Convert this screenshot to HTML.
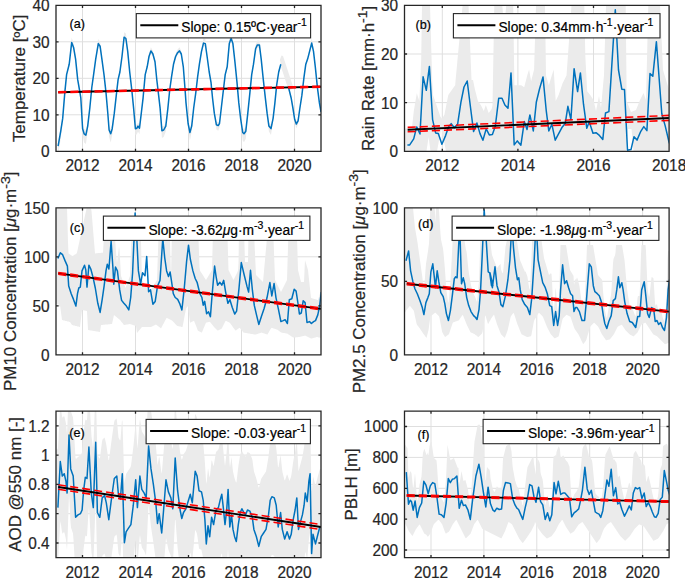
<!DOCTYPE html>
<html><head><meta charset="utf-8"><style>
html,body{margin:0;padding:0;background:#fff;}
svg{display:block;font-family:"Liberation Sans",sans-serif;font-size:15.4px;fill:#262626;}
text{stroke:#262626;stroke-width:0.2px;}
.k{fill:#000;stroke:#000;}
</style></head><body>
<svg width="685" height="578" viewBox="0 0 685 578">
<defs><clipPath id="ca"><rect x="56.0" y="5.3" width="265.0" height="146.0"/></clipPath><clipPath id="cb"><rect x="404.5" y="5.3" width="264.6" height="146.0"/></clipPath><clipPath id="cc"><rect x="56.0" y="207.8" width="265.0" height="147.0"/></clipPath><clipPath id="cd"><rect x="404.5" y="207.8" width="264.6" height="147.0"/></clipPath><clipPath id="ce"><rect x="56.0" y="411.1" width="265.0" height="146.6"/></clipPath><clipPath id="cf"><rect x="404.5" y="411.1" width="264.6" height="146.6"/></clipPath></defs>
<rect width="685" height="578" fill="#fff"/>
<path d="M82.5 5.3V151.3M135.5 5.3V151.3M188.5 5.3V151.3M241.5 5.3V151.3M294.5 5.3V151.3M56.0 114.8H321.0M56.0 78.3H321.0M56.0 41.8H321.0" stroke="#dfdfdf" stroke-width="1" fill="none"/>
<g clip-path="url(#ca)">
<polygon points="58.1,141.2 60.7,126.9 62.7,116.3 64.8,90.6 66.6,72.6 69.2,62.3 71.7,37.4 73.6,43.4 75.6,57.0 77.7,77.7 79.5,88.0 80.8,95.8 82.6,124.8 84.1,129.0 85.9,130.1 87.7,122.7 89.8,106.1 91.8,85.5 93.6,72.6 95.7,57.0 98.3,38.9 100.1,41.9 101.9,57.0 104.0,72.6 106.0,90.6 107.8,111.2 109.1,125.9 110.7,129.0 112.2,124.8 114.3,111.2 116.3,93.2 118.1,77.7 119.9,70.0 122.0,54.0 124.1,32.2 125.9,33.5 127.7,47.9 129.7,70.0 131.8,88.0 133.6,106.1 135.4,124.8 136.9,124.4 138.0,122.7 139.5,124.4 141.3,111.2 143.1,95.8 145.2,72.6 147.2,64.8 149.0,54.0 150.9,47.3 152.9,50.9 155.0,59.7 156.8,77.7 158.6,93.2 160.1,106.1 161.9,126.5 163.7,125.9 165.8,122.7 167.9,106.1 169.7,88.0 171.5,75.1 173.5,62.3 175.6,54.0 177.6,49.4 179.5,47.3 181.3,50.9 183.3,64.8 185.1,88.0 186.0,100.9 188.1,120.5 189.9,128.0 191.7,122.6 193.7,106.0 195.8,90.6 197.6,75.1 199.4,62.2 201.5,47.9 203.5,38.3 205.3,38.9 207.1,53.9 209.2,70.0 211.0,80.3 212.5,95.7 214.3,111.2 216.4,121.6 218.2,122.2 219.5,120.5 221.3,106.0 223.4,88.0 225.2,72.6 227.2,64.8 229.3,38.9 231.1,33.5 232.9,38.9 234.9,59.7 237.0,80.3 238.8,100.9 240.6,116.3 242.7,128.0 244.0,129.0 245.8,126.9 247.8,111.2 249.9,90.6 251.7,72.6 253.5,62.2 255.6,44.9 257.4,40.4 259.4,40.4 261.2,56.9 263.3,77.7 265.3,95.7 267.1,111.2 268.9,122.6 271.0,124.8 273.1,116.3 274.9,100.9 276.7,82.9 278.7,70.0 280.8,62.2 288.5,85.4 291.1,95.7 292.9,106.0 294.7,117.3 296.3,121.0 298.1,118.4 299.9,106.0 301.9,93.2 304.0,75.1 305.8,62.2 307.6,56.9 309.6,47.9 311.7,38.3 313.5,47.9 315.3,64.8 317.4,85.4 319.4,100.9 321.0,109.9 321.0,113.9 319.4,104.9 317.4,89.4 315.3,68.8 313.5,53.8 311.7,46.1 309.6,53.8 307.6,61.1 305.8,66.2 304.0,79.1 301.9,97.2 299.9,110.0 298.1,124.1 296.3,128.5 294.7,122.3 292.9,110.0 291.1,99.7 288.5,89.4 280.8,66.2 278.7,74.0 276.7,86.9 274.9,104.9 273.1,120.5 271.0,135.0 268.9,131.4 267.1,115.2 265.3,99.7 263.3,81.7 261.2,61.1 259.4,47.8 257.4,47.8 255.6,51.4 253.5,66.2 251.7,76.6 249.9,94.6 247.8,115.2 245.8,138.7 244.0,142.3 242.7,140.5 240.6,120.5 238.8,104.9 237.0,84.3 234.9,63.7 232.9,46.5 231.1,41.5 229.3,46.5 227.2,68.8 225.2,76.6 223.4,92.0 221.3,110.0 219.5,127.8 218.2,130.7 216.4,129.6 214.3,115.2 212.5,99.7 211.0,84.3 209.2,74.0 207.1,58.7 205.3,46.5 203.5,46.1 201.5,53.8 199.4,66.2 197.6,79.1 195.8,94.6 193.7,110.0 191.7,131.4 189.9,140.5 188.1,127.8 186.0,104.9 185.1,92.0 183.3,68.8 181.3,56.3 179.5,53.4 177.6,55.1 175.6,58.7 173.5,66.3 171.5,79.1 169.7,92.0 167.9,110.1 165.8,131.4 163.7,136.9 161.9,138.0 160.1,110.1 158.6,97.2 156.8,81.7 155.0,63.7 152.9,56.3 150.9,53.4 149.0,58.7 147.2,68.8 145.2,76.6 143.1,99.8 141.3,115.2 139.5,134.3 138.0,131.4 136.9,134.3 135.4,135.1 133.6,110.1 131.8,92.0 129.7,74.0 127.7,53.9 125.9,41.5 124.1,40.2 122.0,58.7 119.9,74.0 118.1,81.7 116.3,97.2 114.3,115.2 112.2,135.1 110.7,142.4 109.1,136.9 107.8,115.2 106.0,94.6 104.0,76.6 101.9,61.2 100.1,49.0 98.3,46.6 95.7,61.2 93.6,76.6 91.8,89.5 89.8,110.1 87.7,131.4 85.9,144.1 84.1,142.4 82.6,135.1 80.8,99.8 79.5,92.0 77.7,81.7 75.6,61.2 73.6,50.2 71.7,45.3 69.2,66.3 66.6,76.6 64.8,94.6 62.7,120.5 60.7,138.7 58.1,155.2" fill="#ebebeb"/>
<polygon points="279.8,60.0 281.5,55.5 283.0,56.0 293.5,88.0 289.0,91.0" fill="#ebebeb"/>
<polyline points="58.1,146.2 60.7,131.3 62.7,118.4 64.8,92.6 66.6,74.6 69.2,64.3 71.7,42.4 73.6,47.5 75.6,59.1 77.7,79.7 79.5,90.0 80.8,97.8 82.6,128.7 84.1,133.8 85.9,135.1 87.7,126.1 89.8,108.1 91.8,87.5 93.6,74.6 95.7,59.1 98.3,43.6 100.1,46.2 101.9,59.1 104.0,74.6 106.0,92.6 107.8,113.2 109.1,130.0 110.7,133.8 112.2,128.7 114.3,113.2 116.3,95.2 118.1,79.7 119.9,72.0 122.0,56.5 124.1,37.2 125.9,38.5 127.7,51.4 129.7,72.0 131.8,90.0 133.6,108.1 135.4,128.7 136.9,128.2 138.0,126.1 139.5,128.2 141.3,113.2 143.1,97.8 145.2,74.6 147.2,66.8 149.0,56.5 150.9,50.9 152.9,54.0 155.0,61.7 156.8,79.7 158.6,95.2 160.1,108.1 161.9,130.7 163.7,130.0 165.8,126.1 167.9,108.1 169.7,90.0 171.5,77.1 173.5,64.3 175.6,56.5 177.6,52.7 179.5,50.9 181.3,54.0 183.3,66.8 185.1,90.0 186.0,102.9 188.1,123.5 189.9,132.5 191.7,126.1 193.7,108.0 195.8,92.6 197.6,77.1 199.4,64.2 201.5,51.4 203.5,43.1 205.3,43.6 207.1,56.5 209.2,72.0 211.0,82.3 212.5,97.7 214.3,113.2 216.4,124.8 218.2,125.6 219.5,123.5 221.3,108.0 223.4,90.0 225.2,74.6 227.2,66.8 229.3,43.6 231.1,38.5 232.9,43.6 234.9,61.7 237.0,82.3 238.8,102.9 240.6,118.3 242.7,132.5 244.0,133.8 245.8,131.2 247.8,113.2 249.9,92.6 251.7,74.6 253.5,64.2 255.6,48.8 257.4,44.9 259.4,44.9 261.2,59.1 263.3,79.7 265.3,97.7 267.1,113.2 268.9,126.1 271.0,128.6 273.1,118.3 274.9,102.9 276.7,84.9 278.7,72.0 280.8,64.2" fill="none" stroke="#0072bd" stroke-width="1.5" stroke-linejoin="round"/>
<polyline points="288.5,87.4 291.1,97.7 292.9,108.0 294.7,119.6 296.3,124.0 298.1,120.9 299.9,108.0 301.9,95.2 304.0,77.1 305.8,64.2 307.6,59.1 309.6,51.4 311.7,43.1 313.5,51.4 315.3,66.8 317.4,87.4 319.4,102.9 321.0,111.9" fill="none" stroke="#0072bd" stroke-width="1.5" stroke-linejoin="round"/>
<line x1="58.2" y1="92.2" x2="321.0" y2="86.7" stroke="#000" stroke-width="1.9"/>
<line x1="58.2" y1="91.7" x2="321.0" y2="86.2" stroke="#f00" stroke-width="1.6" stroke-dasharray="8.1 4.0"/>
<line x1="58.2" y1="92.7" x2="321.0" y2="87.2" stroke="#f00" stroke-width="1.6" stroke-dasharray="8.1 4.0"/>
</g>
<rect x="136.3" y="13.6" width="174.3" height="24.3" fill="#fff" stroke="#262626" stroke-width="1.1"/>
<line x1="140.3" y1="25.3" x2="178.3" y2="25.3" stroke="#000" stroke-width="2"/>
<text transform="translate(181.3,32.4) scale(1,1.04)" font-size="13.8" class="k">Slope: 0.15ºC·year<tspan dy="-5.7" font-size="10.5">-1</tspan></text>
<text transform="translate(69.6,28.3) scale(1,1.04)" font-size="12.6" class="k">(a)</text>
<path d="M56.0 5.3H321.0V151.3H56.0ZM82.5 151.3v-2.6M82.5 5.3v2.6M135.5 151.3v-2.6M135.5 5.3v2.6M188.5 151.3v-2.6M188.5 5.3v2.6M241.5 151.3v-2.6M241.5 5.3v2.6M294.5 151.3v-2.6M294.5 5.3v2.6M56.0 151.3h2.6M321.0 151.3h-2.6M56.0 114.8h2.6M321.0 114.8h-2.6M56.0 78.3h2.6M321.0 78.3h-2.6M56.0 41.8h2.6M321.0 41.8h-2.6M56.0 5.3h2.6M321.0 5.3h-2.6" stroke="#262626" stroke-width="1.3" fill="none"/>
<text transform="translate(82.5,171.4) scale(1,1.04)" text-anchor="middle">2012</text>
<text transform="translate(135.5,171.4) scale(1,1.04)" text-anchor="middle">2014</text>
<text transform="translate(188.5,171.4) scale(1,1.04)" text-anchor="middle">2016</text>
<text transform="translate(241.5,171.4) scale(1,1.04)" text-anchor="middle">2018</text>
<text transform="translate(294.5,171.4) scale(1,1.04)" text-anchor="middle">2020</text>
<text transform="translate(49.6,157.2) scale(1,1.04)" text-anchor="end">0</text>
<text transform="translate(49.6,120.7) scale(1,1.04)" text-anchor="end">10</text>
<text transform="translate(49.6,84.2) scale(1,1.04)" text-anchor="end">20</text>
<text transform="translate(49.6,47.7) scale(1,1.04)" text-anchor="end">30</text>
<text transform="translate(49.6,11.2) scale(1,1.04)" text-anchor="end">40</text>
<text transform="translate(25.0,78.3) scale(1,1.04) rotate(-90)" text-anchor="middle" font-size="16.3">Temperature [ºC]</text>
<path d="M442.3 5.3V151.3M517.9 5.3V151.3M593.5 5.3V151.3M404.5 102.6H669.1M404.5 54.0H669.1" stroke="#dfdfdf" stroke-width="1" fill="none"/>
<g clip-path="url(#cb)">
<polygon points="404.5,128.6 411.9,128.6 413.8,110.9 416.8,93.2 419.3,101.0 421.2,60.0 422.0,5.3 430.0,5.3 432.2,80.0 433.0,95.1 436.5,105.0 440.4,116.8 442.0,118.8 444.4,114.8 448.3,95.1 452.3,89.2 455.2,85.3 455.6,80.0 462.6,5.3 468.5,5.3 471.5,80.0 473.0,80.0 474.9,89.2 477.9,101.0 480.8,105.0 483.8,110.9 485.8,105.0 488.7,112.9 491.7,108.9 492.5,105.0 494.3,5.3 502.3,5.3 504.2,30.0 506.2,5.3 513.2,5.3 514.4,85.3 521.2,85.3 524.2,87.2 527.2,75.4 529.1,69.5 531.1,81.3 534.1,69.5 536.0,5.3 545.0,5.3 546.0,75.4 548.8,85.3 551.8,75.4 553.7,69.5 555.7,101.0 558.6,95.1 562.6,83.3 566.5,75.4 568.5,47.8 571.5,5.3 584.3,5.3 585.3,55.7 587.2,91.2 590.2,95.1 593.5,100.0 596.0,111.0 599.0,96.0 601.0,108.0 604.0,75.0 606.0,5.3 625.7,5.3 626.7,101.0 631.0,112.0 636.0,110.0 640.0,100.0 643.5,93.0 646.0,100.0 648.3,5.3 660.0,5.3 663.0,70.0 669.1,90.0 669.1,151.3 633.5,151.3 631.5,129.0 628.0,129.0 626.0,151.3 446.0,151.3 441.3,128.0 437.0,151.3 430.5,151.3 428.6,137.0 426.5,151.3 404.5,151.3" fill="#ebebeb"/>
<polyline points="407.4,144.9 409.7,144.9 413.7,138.9 416.7,126.9 420.0,134.0 423.1,76.8 426.3,90.3 429.4,66.4 432.6,119.6 435.6,132.9 438.3,133.6 441.9,144.2 445.6,135.6 448.5,126.9 451.2,123.6 454.3,127.6 457.6,124.3 460.9,102.3 464.0,87.0 467.2,81.0 470.2,105.0 473.6,131.6 476.9,122.9 480.0,133.6 482.9,140.2 486.2,128.9 489.3,134.9 492.4,134.5 495.3,126.3 498.7,98.3 502.0,98.3 504.9,105.0 508.0,108.3 511.0,72.9 514.2,144.9 517.3,140.9 520.9,145.2 524.3,121.6 527.0,129.6 529.9,114.9 533.3,130.9 536.3,102.3 539.5,89.0 543.0,76.9 546.2,110.3 548.8,130.9 551.9,124.3 555.2,140.2 561.9,127.6 565.2,123.6 567.9,106.3 570.9,119.6 574.1,68.7 577.6,91.6 580.4,72.9 583.5,104.2 586.8,128.3 589.2,121.8 593.0,133.3 596.0,132.7 599.4,135.4 602.8,139.4 605.5,113.0 608.9,111.6 615.3,9.8 618.5,70.0 621.8,89.2 624.5,89.5 627.5,150.3 631.0,149.6 634.0,136.7 637.0,140.1 640.8,131.3 643.8,126.6 646.9,130.6 650.0,73.6 652.8,76.3 656.4,41.7 661.8,113.7 665.2,125.9 669.0,142.0 672.0,150.0" fill="none" stroke="#0072bd" stroke-width="1.5" stroke-linejoin="round"/>
<line x1="407.65" y1="129.7" x2="669.1" y2="118.0" stroke="#000" stroke-width="1.9"/>
<line x1="407.65" y1="127.4" x2="669.1" y2="115.4" stroke="#f00" stroke-width="1.6" stroke-dasharray="8.1 4.0"/>
<line x1="407.65" y1="131.8" x2="669.1" y2="120.4" stroke="#f00" stroke-width="1.6" stroke-dasharray="8.1 4.0"/>
</g>
<rect x="453.4" y="13.6" width="206.6" height="24.3" fill="#fff" stroke="#262626" stroke-width="1.1"/>
<line x1="457.4" y1="25.3" x2="495.4" y2="25.3" stroke="#000" stroke-width="2"/>
<text transform="translate(498.4,32.4) scale(1,1.04)" font-size="13.8" class="k">Slope: 0.34mm·h<tspan dy="-5.7" font-size="10.5">-1</tspan><tspan dy="5.7">·year</tspan><tspan dy="-5.7" font-size="10.5">-1</tspan></text>
<text transform="translate(415.6,28.7) scale(1,1.04)" font-size="12.6" class="k">(b)</text>
<path d="M404.5 5.3H669.1V151.3H404.5ZM442.3 151.3v-2.6M442.3 5.3v2.6M517.9 151.3v-2.6M517.9 5.3v2.6M593.5 151.3v-2.6M593.5 5.3v2.6M669.1 151.3v-2.6M669.1 5.3v2.6M404.5 151.3h2.6M669.1 151.3h-2.6M404.5 102.6h2.6M669.1 102.6h-2.6M404.5 54.0h2.6M669.1 54.0h-2.6M404.5 5.3h2.6M669.1 5.3h-2.6" stroke="#262626" stroke-width="1.3" fill="none"/>
<text transform="translate(442.3,171.4) scale(1,1.04)" text-anchor="middle">2012</text>
<text transform="translate(517.9,171.4) scale(1,1.04)" text-anchor="middle">2014</text>
<text transform="translate(593.5,171.4) scale(1,1.04)" text-anchor="middle">2016</text>
<text transform="translate(669.1,171.4) scale(1,1.04)" text-anchor="middle">2018</text>
<text transform="translate(398.1,157.2) scale(1,1.04)" text-anchor="end">0</text>
<text transform="translate(398.1,108.5) scale(1,1.04)" text-anchor="end">10</text>
<text transform="translate(398.1,59.9) scale(1,1.04)" text-anchor="end">20</text>
<text transform="translate(398.1,11.2) scale(1,1.04)" text-anchor="end">30</text>
<text transform="translate(373.7,78.3) scale(1,1.04) rotate(-90)" text-anchor="middle" font-size="16.3">Rain Rate [mm·h<tspan dy="-6.8" font-size="13.5">-1</tspan><tspan dy="6.8">]</tspan></text>
<path d="M82.5 207.8V354.8M135.5 207.8V354.8M188.5 207.8V354.8M241.5 207.8V354.8M294.5 207.8V354.8M56.0 305.8H321.0M56.0 256.8H321.0" stroke="#dfdfdf" stroke-width="1" fill="none"/>
<g clip-path="url(#cc)">
<polygon points="55.0,208.6 55.5,208.6 56.0,208.6 56.5,208.6 57.0,208.6 57.5,208.6 58.0,208.6 58.5,208.6 59.0,208.6 59.5,208.6 60.0,208.6 60.5,208.6 61.0,208.6 61.5,208.6 62.0,208.6 62.5,208.6 63.0,208.6 63.5,208.6 64.0,208.6 64.5,208.6 65.0,208.6 65.5,208.6 66.0,208.6 66.5,208.6 67.0,208.6 67.5,223.5 68.0,242.2 68.5,253.5 69.0,253.8 69.5,254.1 70.0,254.5 70.5,254.8 71.0,255.1 71.5,255.4 72.0,255.7 72.5,256.0 73.0,255.7 73.5,255.4 74.0,255.1 74.5,254.8 75.0,254.5 75.5,254.2 76.0,253.9 76.5,253.6 77.0,252.5 77.5,250.2 78.0,247.9 78.5,245.5 79.0,243.2 79.5,240.9 80.0,238.6 80.5,236.3 81.0,234.0 81.5,231.7 82.0,229.4 82.5,227.1 83.0,224.8 83.5,222.5 84.0,220.1 84.5,217.8 85.0,215.5 85.5,213.2 86.0,210.9 86.5,208.6 87.0,208.6 87.5,208.6 88.0,208.6 88.5,208.6 89.0,208.6 89.5,208.6 90.0,208.6 90.5,208.6 91.0,208.6 91.5,211.0 92.0,217.1 92.5,223.1 93.0,229.2 93.5,235.2 94.0,241.3 94.5,247.3 95.0,253.4 95.5,253.4 96.0,253.3 96.5,253.3 97.0,253.2 97.5,253.2 98.0,253.1 98.5,253.1 99.0,253.0 99.5,253.0 100.0,252.9 100.5,252.9 101.0,252.8 101.5,252.8 102.0,252.7 102.5,252.7 103.0,252.6 103.5,243.6 104.0,230.0 104.5,230.0 105.0,230.0 105.5,230.0 106.0,230.0 106.5,230.0 107.0,230.0 107.5,230.0 108.0,230.0 108.5,230.0 109.0,230.0 109.5,230.0 110.0,230.0 110.5,230.0 111.0,230.0 111.5,230.0 112.0,230.0 112.5,230.0 113.0,230.0 113.5,230.0 114.0,230.0 114.5,231.3 115.0,238.1 115.5,244.8 116.0,251.6 116.5,258.3 117.0,262.9 117.5,258.8 118.0,254.8 118.5,250.7 119.0,246.6 119.5,250.2 120.0,258.8 120.5,267.4 121.0,276.0 121.5,277.3 122.0,278.7 122.5,280.0 123.0,281.3 123.5,282.7 124.0,284.0 124.5,285.3 125.0,286.7 125.5,288.0 126.0,286.7 126.5,285.3 127.0,284.0 127.5,282.7 128.0,281.3 128.5,280.0 129.0,278.7 129.5,277.3 130.0,276.0 130.5,262.5 131.0,248.9 131.5,235.4 132.0,230.0 132.5,230.0 133.0,230.0 133.5,230.0 134.0,230.0 134.5,230.0 135.0,230.0 135.5,230.0 136.0,230.0 136.5,230.0 137.0,230.0 137.5,230.0 138.0,230.0 138.5,230.0 139.0,230.0 139.5,230.0 140.0,230.0 140.5,230.0 141.0,241.5 141.5,260.8 142.0,280.0 142.5,280.8 143.0,281.6 143.5,282.4 144.0,283.2 144.5,284.0 145.0,284.8 145.5,285.6 146.0,286.4 146.5,287.2 147.0,288.0 147.5,288.8 148.0,289.6 148.5,290.4 149.0,291.2 149.5,292.0 150.0,291.2 150.5,290.4 151.0,289.6 151.5,288.8 152.0,288.0 152.5,287.2 153.0,286.4 153.5,285.6 154.0,284.8 154.5,284.0 155.0,283.2 155.5,282.4 156.0,281.6 156.5,280.8 157.0,280.0 157.5,265.3 158.0,250.6 158.5,235.9 159.0,230.0 159.5,230.0 160.0,230.0 160.5,230.0 161.0,230.0 161.5,230.0 162.0,230.0 162.5,230.0 163.0,230.0 163.5,230.0 164.0,230.0 164.5,230.0 165.0,230.0 165.5,230.0 166.0,230.0 166.5,230.0 167.0,230.0 167.5,230.0 168.0,230.0 168.5,230.0 169.0,230.0 169.5,230.0 170.0,241.1 170.5,259.5 171.0,278.0 171.5,254.0 172.0,230.0 172.5,230.0 173.0,230.0 173.5,230.0 174.0,230.0 174.5,230.0 175.0,230.0 175.5,230.0 176.0,230.0 176.5,230.0 177.0,230.0 177.5,230.0 178.0,230.0 178.5,230.0 179.0,230.0 179.5,230.0 180.0,230.0 180.5,230.0 181.0,230.0 181.5,230.0 182.0,230.0 182.5,230.0 183.0,230.0 183.5,230.0 184.0,230.0 184.5,230.0 185.0,230.0 185.5,230.0 186.0,230.0 186.5,230.0 187.0,230.0 187.5,230.0 188.0,230.0 188.5,230.0 189.0,230.0 189.5,230.0 190.0,230.0 190.5,230.0 191.0,230.0 191.5,230.0 192.0,230.0 192.5,230.0 193.0,230.0 193.5,230.0 194.0,230.0 194.5,230.0 195.0,230.0 195.5,230.0 196.0,230.0 196.5,230.0 197.0,230.0 197.5,230.0 198.0,230.0 198.5,238.6 199.0,252.9 199.5,267.1 200.0,270.6 200.5,271.4 201.0,272.2 201.5,273.0 202.0,273.8 202.5,274.5 203.0,275.3 203.5,276.1 204.0,276.9 204.5,277.7 205.0,278.4 205.5,279.2 206.0,280.0 206.5,279.2 207.0,278.3 207.5,277.5 208.0,276.7 208.5,275.8 209.0,275.0 209.5,274.2 210.0,273.3 210.5,272.5 211.0,271.7 211.5,270.8 212.0,270.0 212.5,250.0 213.0,230.0 213.5,230.0 214.0,230.0 214.5,230.0 215.0,230.0 215.5,230.0 216.0,230.0 216.5,230.0 217.0,230.0 217.5,230.0 218.0,230.0 218.5,230.0 219.0,230.0 219.5,230.0 220.0,230.0 220.5,230.0 221.0,230.0 221.5,230.0 222.0,230.0 222.5,230.0 223.0,230.0 223.5,230.0 224.0,230.0 224.5,230.0 225.0,230.0 225.5,230.0 226.0,230.0 226.5,230.0 227.0,230.0 227.5,236.7 228.0,253.3 228.5,270.0 229.0,271.0 229.5,272.0 230.0,273.0 230.5,274.0 231.0,275.0 231.5,276.0 232.0,277.0 232.5,278.0 233.0,279.0 233.5,280.0 234.0,279.0 234.5,278.0 235.0,276.9 235.5,275.9 236.0,274.9 236.5,273.9 237.0,272.9 237.5,271.8 238.0,270.8 238.5,263.3 239.0,230.0 239.5,230.0 240.0,230.0 240.5,230.0 241.0,230.0 241.5,230.0 242.0,230.0 242.5,230.0 243.0,230.0 243.5,230.0 244.0,230.0 244.5,246.0 245.0,262.0 245.5,262.0 246.0,262.0 246.5,262.0 247.0,262.0 247.5,262.0 248.0,262.0 248.5,230.0 249.0,230.0 249.5,230.0 250.0,230.0 250.5,230.0 251.0,230.0 251.5,230.0 252.0,230.0 252.5,230.0 253.0,230.0 253.5,230.0 254.0,232.1 254.5,242.9 255.0,253.6 255.5,264.3 256.0,275.0 256.5,275.5 257.0,276.0 257.5,276.5 258.0,277.0 258.5,277.5 259.0,278.0 259.5,278.5 260.0,279.0 260.5,279.5 261.0,280.0 261.5,280.5 262.0,281.0 262.5,281.5 263.0,282.0 263.5,276.5 264.0,270.9 264.5,265.4 265.0,259.9 265.5,254.3 266.0,248.8 266.5,243.3 267.0,237.7 267.5,232.2 268.0,230.0 268.5,230.0 269.0,230.0 269.5,230.0 270.0,230.0 270.5,230.0 271.0,230.0 271.5,230.0 272.0,230.0 272.5,230.0 273.0,230.0 273.5,238.3 274.0,252.2 274.5,266.1 275.0,280.0 275.5,281.0 276.0,282.0 276.5,283.0 277.0,284.0 277.5,285.0 278.0,286.0 278.5,287.0 279.0,288.0 279.5,289.0 280.0,290.0 280.5,291.0 281.0,292.0 281.5,291.0 282.0,290.0 282.5,289.0 283.0,288.0 283.5,287.0 284.0,286.0 284.5,285.0 285.0,284.0 285.5,283.0 286.0,282.0 286.5,281.0 287.0,280.0 287.5,263.3 288.0,246.7 288.5,230.0 289.0,230.0 289.5,230.0 290.0,230.0 290.5,230.0 291.0,230.0 291.5,230.0 292.0,230.0 292.5,230.0 293.0,230.0 293.5,230.0 294.0,230.0 294.5,230.0 295.0,230.0 295.5,230.0 296.0,230.0 296.5,230.0 297.0,236.7 297.5,253.3 298.0,270.0 298.5,272.0 299.0,274.0 299.5,276.0 300.0,278.0 300.5,280.0 301.0,282.0 301.5,282.0 302.0,282.0 302.5,282.0 303.0,282.0 303.5,282.0 304.0,282.0 304.5,271.0 305.0,260.0 305.5,261.7 306.0,263.3 306.5,265.0 307.0,266.7 307.5,268.3 308.0,270.0 308.5,274.7 309.0,279.3 309.5,284.0 310.0,288.7 310.5,293.3 311.0,298.0 311.5,298.1 312.0,298.3 312.5,298.4 313.0,298.6 313.5,298.7 314.0,298.9 314.5,299.0 315.0,299.1 315.5,299.3 316.0,299.4 316.5,299.6 317.0,299.7 317.5,299.9 318.0,300.0 318.5,298.3 319.0,296.7 319.5,295.0 320.0,293.3 320.5,291.7 321.0,290.0 321.5,290.0 322.0,290.0 322.0,338.2 321.5,338.1 321.0,338.0 320.5,337.8 320.0,337.7 319.5,337.6 319.0,337.5 318.5,337.4 318.0,337.2 317.5,337.1 317.0,337.0 316.5,337.1 316.0,337.3 315.5,337.4 315.0,337.5 314.5,337.7 314.0,337.8 313.5,337.9 313.0,338.1 312.5,338.2 312.0,338.4 311.5,338.5 311.0,338.6 310.5,338.3 310.0,338.1 309.5,337.8 309.0,337.6 308.5,337.3 308.0,337.1 307.5,336.8 307.0,336.6 306.5,336.3 306.0,336.1 305.5,335.8 305.0,335.6 304.5,335.7 304.0,335.9 303.5,336.0 303.0,336.1 302.5,336.2 302.0,336.3 301.5,336.5 301.0,336.6 300.5,336.7 300.0,336.8 299.5,336.9 299.0,337.0 298.5,337.1 298.0,337.1 297.5,337.2 297.0,337.2 296.5,337.3 296.0,337.3 295.5,337.4 295.0,337.4 294.5,337.5 294.0,337.5 293.5,337.6 293.0,337.5 292.5,337.1 292.0,336.8 291.5,336.5 291.0,336.1 290.5,335.8 290.0,335.5 289.5,335.1 289.0,334.8 288.5,334.5 288.0,334.1 287.5,333.8 287.0,333.6 286.5,333.5 286.0,333.4 285.5,333.3 285.0,333.2 284.5,333.1 284.0,333.1 283.5,333.0 283.0,332.9 282.5,332.8 282.0,332.7 281.5,332.6 281.0,332.4 280.5,332.0 280.0,331.7 279.5,331.3 279.0,330.9 278.5,330.6 278.0,330.2 277.5,329.8 277.0,329.6 276.5,329.4 276.0,329.3 275.5,329.1 275.0,328.9 274.5,328.8 274.0,328.6 273.5,328.4 273.0,328.2 272.5,328.1 272.0,327.9 271.5,327.7 271.0,328.4 270.5,329.3 270.0,330.1 269.5,331.0 269.0,331.8 268.5,332.7 268.0,333.6 267.5,334.4 267.0,334.5 266.5,334.3 266.0,334.1 265.5,334.0 265.0,333.8 264.5,333.6 264.0,333.5 263.5,333.3 263.0,333.1 262.5,333.0 262.0,332.8 261.5,332.6 261.0,332.7 260.5,332.9 260.0,333.1 259.5,333.2 259.0,333.4 258.5,333.6 258.0,333.8 257.5,333.9 257.0,334.1 256.5,334.3 256.0,334.4 255.5,334.6 255.0,334.5 254.5,334.4 254.0,334.4 253.5,334.3 253.0,334.2 252.5,334.1 252.0,334.0 251.5,333.9 251.0,333.9 250.5,333.8 250.0,333.7 249.5,333.6 249.0,333.5 248.5,333.4 248.0,333.3 247.5,333.3 247.0,333.2 246.5,333.1 246.0,333.0 245.5,332.9 245.0,332.8 244.5,332.8 244.0,332.7 243.5,332.5 243.0,331.9 242.5,331.3 242.0,330.6 241.5,330.0 241.0,329.4 240.5,328.8 240.0,328.2 239.5,327.8 239.0,328.1 238.5,328.5 238.0,328.9 237.5,329.3 237.0,329.6 236.5,330.0 236.0,330.4 235.5,330.6 235.0,329.9 234.5,329.2 234.0,328.5 233.5,327.9 233.0,327.2 232.5,326.5 232.0,325.8 231.5,325.1 231.0,324.5 230.5,323.8 230.0,323.1 229.5,322.6 229.0,322.4 228.5,322.1 228.0,321.9 227.5,321.6 227.0,321.4 226.5,321.1 226.0,320.9 225.5,321.1 225.0,322.1 224.5,323.1 224.0,324.1 223.5,325.1 223.0,326.1 222.5,327.1 222.0,328.1 221.5,328.8 221.0,329.1 220.5,329.3 220.0,329.6 219.5,329.8 219.0,330.1 218.5,330.3 218.0,330.6 217.5,330.4 217.0,329.9 216.5,329.4 216.0,328.9 215.5,328.4 215.0,327.9 214.5,327.4 214.0,326.9 213.5,326.3 213.0,325.7 212.5,325.1 212.0,324.4 211.5,323.8 211.0,323.2 210.5,322.6 210.0,321.9 209.5,321.8 209.0,321.9 208.5,322.0 208.0,322.2 207.5,322.3 207.0,322.4 206.5,322.5 206.0,322.7 205.5,323.7 205.0,324.9 204.5,326.2 204.0,327.4 203.5,328.6 203.0,329.9 202.5,331.1 202.0,332.4 201.5,332.4 201.0,332.2 200.5,331.9 200.0,331.7 199.5,331.5 199.0,331.2 198.5,331.0 198.0,330.7 197.5,329.7 197.0,328.4 196.5,327.1 196.0,325.8 195.5,324.5 195.0,323.3 194.5,322.0 194.0,320.7 193.5,320.9 193.0,321.2 192.5,321.4 192.0,321.7 191.5,321.9 191.0,322.2 190.5,322.4 190.0,322.7 189.5,318.3 189.0,313.9 188.5,309.4 188.0,305.0 187.5,305.9 187.0,306.9 186.5,307.9 186.0,308.8 185.5,311.4 185.0,314.0 184.5,316.6 184.0,319.3 183.5,321.9 183.0,324.5 182.5,327.1 182.0,327.0 181.5,326.9 181.0,326.7 180.5,326.6 180.0,326.5 179.5,326.4 179.0,326.3 178.5,326.2 178.0,326.0 177.5,325.9 177.0,325.8 176.5,325.3 176.0,324.7 175.5,324.2 175.0,323.7 174.5,323.1 174.0,322.6 173.5,322.1 173.0,321.6 172.5,321.0 172.0,320.5 171.5,320.2 171.0,320.0 170.5,319.8 170.0,319.5 169.5,319.2 169.0,319.0 168.5,318.8 168.0,318.5 167.5,318.2 167.0,318.0 166.5,318.0 166.0,318.9 165.5,319.9 165.0,320.8 164.5,321.8 164.0,322.7 163.5,323.7 163.0,324.6 162.5,325.6 162.0,326.5 161.5,327.5 161.0,328.4 160.5,328.0 160.0,327.6 159.5,327.2 159.0,326.8 158.5,326.4 158.0,326.1 157.5,325.7 157.0,325.3 156.5,324.9 156.0,324.5 155.5,324.7 155.0,325.0 154.5,325.2 154.0,325.5 153.5,325.7 153.0,325.9 152.5,326.2 152.0,326.4 151.5,326.7 151.0,326.9 150.5,327.1 150.0,327.1 149.5,327.1 149.0,327.1 148.5,327.1 148.0,327.1 147.5,327.1 147.0,327.1 146.5,327.1 146.0,327.0 145.5,327.0 145.0,327.0 144.5,327.0 144.0,327.0 143.5,327.0 143.0,327.0 142.5,327.0 142.0,327.0 141.5,327.6 141.0,328.2 140.5,328.8 140.0,329.4 139.5,330.0 139.0,330.6 138.5,331.2 138.0,331.8 137.5,332.4 137.0,333.0 136.5,329.5 136.0,326.0 135.5,325.8 135.0,325.7 134.5,325.5 134.0,325.3 133.5,325.2 133.0,325.0 132.5,324.8 132.0,324.7 131.5,324.5 131.0,324.3 130.5,324.2 130.0,324.0 129.5,324.1 129.0,324.2 128.5,324.2 128.0,324.3 127.5,324.4 127.0,324.5 126.5,324.6 126.0,324.7 125.5,324.8 125.0,324.8 124.5,324.9 124.0,325.0 123.5,324.4 123.0,323.8 122.5,323.1 122.0,322.5 121.5,321.9 121.0,321.2 120.5,320.6 120.0,320.0 119.5,319.6 119.0,319.2 118.5,318.8 118.0,318.3 117.5,317.9 117.0,317.5 116.5,317.1 116.0,316.7 115.5,316.2 115.0,315.8 114.5,315.4 114.0,315.0 113.5,317.2 113.0,319.5 112.5,321.8 112.0,324.0 111.5,324.0 111.0,324.1 110.5,324.1 110.0,324.2 109.5,324.2 109.0,324.3 108.5,324.3 108.0,324.4 107.5,324.4 107.0,324.5 106.5,324.5 106.0,324.5 105.5,324.6 105.0,324.6 104.5,324.7 104.0,324.7 103.5,324.8 103.0,324.8 102.5,324.9 102.0,324.9 101.5,325.0 101.0,325.0 100.5,328.5 100.0,332.0 99.5,331.9 99.0,331.8 98.5,331.8 98.0,331.7 97.5,331.6 97.0,331.5 96.5,331.4 96.0,331.3 95.5,331.2 95.0,331.2 94.5,331.1 94.0,331.0 93.5,330.9 93.0,330.8 92.5,330.8 92.0,330.7 91.5,330.6 91.0,330.5 90.5,330.4 90.0,330.3 89.5,330.2 89.0,330.2 88.5,330.1 88.0,330.0 87.5,320.5 87.0,311.0 86.5,310.9 86.0,310.8 85.5,310.7 85.0,310.6 84.5,310.5 84.0,310.4 83.5,310.3 83.0,310.2 82.5,310.1 82.0,310.0 81.5,314.2 81.0,318.5 80.5,322.8 80.0,327.0 79.5,326.9 79.0,326.8 78.5,326.6 78.0,326.5 77.5,326.4 77.0,326.2 76.5,326.1 76.0,326.0 75.5,325.9 75.0,325.8 74.5,325.6 74.0,325.5 73.5,325.4 73.0,325.2 72.5,325.1 72.0,325.0 71.5,324.2 71.0,323.5 70.5,322.8 70.0,322.0 69.5,321.9 69.0,321.8 68.5,321.6 68.0,321.5 67.5,321.4 67.0,321.2 66.5,321.1 66.0,321.0 65.5,320.9 65.0,320.8 64.5,320.6 64.0,320.5 63.5,320.4 63.0,320.2 62.5,320.1 62.0,320.0 61.5,316.2 61.0,312.5 60.5,308.8 60.0,305.0 59.5,304.9 59.0,304.8 58.5,304.6 58.0,304.5 57.5,304.4 57.0,304.2 56.5,304.1 56.0,304.0 55.5,304.0 55.0,304.0" fill="#ebebeb"/>
<polyline points="57.9,258.5 60.3,252.8 62.6,254.7 64.9,260.4 67.4,266.1 68.7,286.1 71.2,293.7 73.5,299.4 75.9,306.1 77.5,293.7 78.8,288.0 80.3,287.1 82.0,270.9 84.5,265.2 85.8,269.9 87.0,287.1 88.9,265.2 90.8,269.0 93.1,277.6 95.3,288.0 97.8,303.3 100.1,312.4 102.2,299.4 104.1,286.1 106.0,270.9 107.3,264.2 108.9,269.0 111.1,241.4 113.0,269.0 113.8,284.2 115.5,267.1 117.4,270.9 119.7,289.9 121.6,300.4 123.9,303.3 126.4,306.1 128.8,309.9 130.7,297.5 132.6,272.8 135.1,212.9 136.8,238.5 138.4,270.9 140.6,284.2 142.5,272.8 145.0,275.7 146.7,256.6 148.6,291.8 150.5,289.9 152.9,304.2 155.2,301.4 157.5,286.1 160.0,280.4 162.8,238.5 164.7,257.6 166.6,270.9 168.5,276.6 170.1,271.9 171.4,280.4 173.3,293.7 175.2,297.5 177.7,299.4 179.6,303.3 181.9,309.9 184.2,289.0 186.6,261.4 188.5,245.2 190.4,259.5 192.9,270.9 195.2,278.5 197.1,282.3 199.9,293.7 201.9,297.5 203.2,305.2 204.7,301.4 206.6,313.7 208.5,311.8 210.4,316.6 211.9,297.5 214.6,266.1 216.1,276.6 217.6,285.2 219.9,282.3 221.8,285.2 223.7,280.4 225.6,291.8 227.9,303.3 229.9,299.7 232.2,307.3 234.7,314.0 236.6,311.1 239.0,288.3 241.3,262.6 244.2,275.0 247.0,286.4 248.6,292.1 250.5,270.2 252.4,290.2 254.3,305.4 256.5,314.9 258.8,324.4 261.3,316.8 264.2,308.3 267.0,297.8 269.9,282.6 271.8,295.9 274.1,283.5 276.0,297.8 278.4,309.2 280.9,321.6 283.2,320.6 285.1,319.7 287.4,323.5 289.3,299.7 291.8,298.8 294.2,289.2 296.1,291.1 298.0,303.5 299.4,314.0 301.3,313.0 303.2,300.7 305.1,302.6 307.0,322.5 309.5,321.6 311.4,323.5 313.6,321.6 315.5,320.6 317.8,314.9 319.4,307.3 321.3,292.1" fill="none" stroke="#0072bd" stroke-width="1.5" stroke-linejoin="round"/>
<line x1="58.2" y1="273.4" x2="321.0" y2="308.9" stroke="#000" stroke-width="1.9"/>
<line x1="58.2" y1="272.5" x2="321.0" y2="308.0" stroke="#f00" stroke-width="1.6" stroke-dasharray="8.1 4.0"/>
<line x1="58.2" y1="274.3" x2="321.0" y2="309.8" stroke="#f00" stroke-width="1.6" stroke-dasharray="8.1 4.0"/>
</g>
<rect x="103.4" y="216.1" width="206.5" height="24.3" fill="#fff" stroke="#262626" stroke-width="1.1"/>
<line x1="107.4" y1="227.8" x2="145.4" y2="227.8" stroke="#000" stroke-width="2"/>
<text transform="translate(148.4,234.9) scale(1,1.04)" font-size="13.8" class="k">Slope: -3.62<tspan font-style="italic">μ</tspan>g·m<tspan dy="-5.7" font-size="10.5">-3</tspan><tspan dy="5.7">·year</tspan><tspan dy="-5.7" font-size="10.5">-1</tspan></text>
<text transform="translate(69.7,231.8) scale(1,1.04)" font-size="12.6" class="k">(c)</text>
<path d="M56.0 207.8H321.0V354.8H56.0ZM82.5 354.8v-2.6M82.5 207.8v2.6M135.5 354.8v-2.6M135.5 207.8v2.6M188.5 354.8v-2.6M188.5 207.8v2.6M241.5 354.8v-2.6M241.5 207.8v2.6M294.5 354.8v-2.6M294.5 207.8v2.6M56.0 354.8h2.6M321.0 354.8h-2.6M56.0 305.8h2.6M321.0 305.8h-2.6M56.0 256.8h2.6M321.0 256.8h-2.6M56.0 207.8h2.6M321.0 207.8h-2.6" stroke="#262626" stroke-width="1.3" fill="none"/>
<text transform="translate(82.5,374.9) scale(1,1.04)" text-anchor="middle">2012</text>
<text transform="translate(135.5,374.9) scale(1,1.04)" text-anchor="middle">2014</text>
<text transform="translate(188.5,374.9) scale(1,1.04)" text-anchor="middle">2016</text>
<text transform="translate(241.5,374.9) scale(1,1.04)" text-anchor="middle">2018</text>
<text transform="translate(294.5,374.9) scale(1,1.04)" text-anchor="middle">2020</text>
<text transform="translate(49.6,360.7) scale(1,1.04)" text-anchor="end">0</text>
<text transform="translate(49.6,311.7) scale(1,1.04)" text-anchor="end">50</text>
<text transform="translate(49.6,262.7) scale(1,1.04)" text-anchor="end">100</text>
<text transform="translate(49.6,213.7) scale(1,1.04)" text-anchor="end">150</text>
<text transform="translate(16.3,281.3) scale(1,1.04) rotate(-90)" text-anchor="middle" font-size="16.3">PM10 Concentration [<tspan font-style="italic">μ</tspan>g·m<tspan dy="-6.8" font-size="13.5">-3</tspan><tspan dy="6.8">]</tspan></text>
<path d="M431.0 207.8V354.8M483.9 207.8V354.8M536.8 207.8V354.8M589.7 207.8V354.8M642.6 207.8V354.8M404.5 281.3H669.1" stroke="#dfdfdf" stroke-width="1" fill="none"/>
<g clip-path="url(#cd)">
<polygon points="403.5,208.0 404.0,208.0 404.5,208.0 405.0,208.0 405.5,208.0 406.0,208.0 406.5,208.0 407.0,208.0 407.5,208.0 408.0,208.0 408.5,208.0 409.0,208.0 409.5,208.0 410.0,208.0 410.5,208.0 411.0,208.0 411.5,208.0 412.0,208.0 412.5,208.0 413.0,208.0 413.5,212.8 414.0,218.0 414.5,223.1 415.0,227.9 415.5,230.8 416.0,233.8 416.5,236.6 417.0,239.5 417.5,242.6 418.0,246.2 418.5,249.8 419.0,253.3 419.5,256.7 420.0,260.2 420.5,263.8 421.0,267.4 421.5,270.9 422.0,274.4 422.5,278.4 423.0,283.4 423.5,288.2 424.0,290.5 424.5,283.9 425.0,277.1 425.5,270.1 426.0,263.8 426.5,260.7 427.0,257.5 427.5,254.3 428.0,251.0 428.5,247.2 429.0,243.4 429.5,232.4 430.0,212.5 430.5,210.6 431.0,209.8 431.5,208.9 432.0,208.0 432.5,208.0 433.0,208.0 433.5,208.0 434.0,208.0 434.5,208.0 435.0,212.0 435.5,222.8 436.0,208.8 436.5,208.0 437.0,208.0 437.5,208.0 438.0,208.0 438.5,208.0 439.0,210.1 439.5,218.3 440.0,226.3 440.5,234.0 441.0,239.5 441.5,241.8 442.0,244.0 442.5,246.3 443.0,248.5 443.5,252.8 444.0,258.4 444.5,263.9 445.0,270.2 445.5,277.6 446.0,284.6 446.5,290.7 447.0,294.4 447.5,298.0 448.0,301.6 448.5,302.7 449.0,297.7 449.5,292.5 450.0,287.1 450.5,280.7 451.0,272.0 451.5,262.9 452.0,253.4 452.5,243.1 453.0,231.4 453.5,229.9 454.0,229.2 454.5,228.5 455.0,227.8 455.5,227.1 456.0,226.4 456.5,225.7 457.0,225.0 457.5,225.0 458.0,225.0 458.5,225.0 459.0,225.0 459.5,225.0 460.0,225.0 460.5,225.0 461.0,225.0 461.5,225.0 462.0,225.0 462.5,228.1 463.0,231.2 463.5,234.4 464.0,237.5 464.5,240.6 465.0,243.8 465.5,246.9 466.0,250.0 466.5,251.2 467.0,255.3 467.5,260.4 468.0,265.4 468.5,270.2 469.0,273.7 469.5,276.7 470.0,279.5 470.5,282.4 471.0,285.2 471.5,287.0 472.0,288.6 472.5,290.3 473.0,291.9 473.5,293.6 474.0,294.8 474.5,295.8 475.0,296.8 475.5,297.9 476.0,299.2 476.5,300.7 477.0,302.1 477.5,297.2 478.0,292.0 478.5,286.6 479.0,281.0 479.5,266.4 480.0,250.6 480.5,233.7 481.0,225.0 481.5,225.0 482.0,225.0 482.5,225.0 483.0,225.0 483.5,225.0 484.0,225.0 484.5,225.0 485.0,225.0 485.5,225.0 486.0,225.0 486.5,225.0 487.0,225.0 487.5,225.0 488.0,225.0 488.5,228.8 489.0,232.5 489.5,236.2 490.0,240.0 490.5,243.8 491.0,247.5 491.5,251.2 492.0,255.0 492.5,256.3 493.0,257.6 493.5,258.9 494.0,260.2 494.5,261.5 495.0,262.8 495.5,264.1 496.0,265.4 496.5,266.7 497.0,268.0 497.5,267.4 498.0,266.8 498.5,266.2 499.0,265.6 499.5,265.0 500.0,264.4 500.5,263.8 501.0,269.5 501.5,270.7 502.0,271.9 502.5,273.1 503.0,273.3 503.5,268.3 504.0,263.1 504.5,257.8 505.0,252.3 505.5,246.8 506.0,244.4 506.5,242.2 507.0,240.0 507.5,239.7 508.0,239.4 508.5,239.2 509.0,238.9 509.5,238.6 510.0,238.3 510.5,238.1 511.0,237.8 511.5,237.5 512.0,237.2 512.5,236.9 513.0,236.7 513.5,236.4 514.0,236.1 514.5,235.8 515.0,235.6 515.5,235.3 516.0,235.0 516.5,238.1 517.0,241.2 517.5,244.4 518.0,247.5 518.5,250.6 519.0,253.8 519.5,256.9 520.0,260.0 520.5,261.2 521.0,262.4 521.5,263.6 522.0,264.8 522.5,266.0 523.0,267.2 523.5,268.4 524.0,269.6 524.5,270.8 525.0,272.0 525.5,271.3 526.0,272.6 526.5,274.0 527.0,275.3 527.5,277.1 528.0,280.5 528.5,283.7 529.0,287.0 529.5,290.1 530.0,287.9 530.5,278.4 531.0,268.4 531.5,257.9 532.0,242.4 532.5,233.7 533.0,230.0 533.5,230.0 534.0,230.0 534.5,230.0 535.0,230.0 535.5,230.0 536.0,230.0 536.5,230.0 537.0,230.0 537.5,230.0 538.0,230.0 538.5,230.0 539.0,230.0 539.5,230.0 540.0,230.0 540.5,233.5 541.0,237.0 541.5,240.5 542.0,244.0 542.5,247.5 543.0,251.0 543.5,254.5 544.0,258.0 544.5,259.7 545.0,261.4 545.5,263.1 546.0,264.8 546.5,266.5 547.0,268.2 547.5,269.9 548.0,271.6 548.5,273.3 549.0,275.0 549.5,274.5 550.0,274.0 550.5,273.5 551.0,273.3 551.5,273.9 552.0,281.3 552.5,291.8 553.0,301.6 553.5,310.7 554.0,309.1 554.5,302.3 555.0,295.2 555.5,287.7 556.0,290.8 556.5,298.1 557.0,305.1 557.5,311.7 558.0,309.3 558.5,303.3 559.0,297.0 559.5,283.1 560.0,261.1 560.5,245.0 561.0,245.0 561.5,245.0 562.0,245.0 562.5,245.0 563.0,245.0 563.5,245.0 564.0,245.0 564.5,245.0 565.0,245.0 565.5,245.0 566.0,245.0 566.5,248.1 567.0,251.2 567.5,254.4 568.0,257.5 568.5,260.6 569.0,263.8 569.5,266.9 570.0,270.0 570.5,270.8 571.0,271.7 571.5,272.5 572.0,273.3 572.5,274.2 573.0,275.0 573.5,275.8 574.0,285.2 574.5,282.4 575.0,279.5 575.5,279.2 576.0,280.0 576.5,278.8 577.0,277.6 577.5,278.4 578.0,280.3 578.5,282.2 579.0,284.0 579.5,286.4 580.0,290.1 580.5,293.8 581.0,297.4 581.5,300.9 582.0,304.1 582.5,304.1 583.0,304.1 583.5,304.1 584.0,304.1 584.5,304.1 585.0,294.5 585.5,283.2 586.0,271.0 586.5,258.1 587.0,245.0 587.5,245.0 588.0,245.0 588.5,245.0 589.0,245.0 589.5,245.0 590.0,245.0 590.5,245.0 591.0,245.0 591.5,245.0 592.0,245.0 592.5,245.0 593.0,245.0 593.5,248.0 594.0,251.0 594.5,254.0 595.0,257.0 595.5,260.0 596.0,263.0 596.5,266.0 597.0,269.0 597.5,272.0 598.0,275.0 598.5,275.6 599.0,276.2 599.5,276.8 600.0,277.3 600.5,277.9 601.0,278.5 601.5,279.1 602.0,279.7 602.5,282.5 603.0,290.2 603.5,296.6 604.0,301.6 604.5,306.5 605.0,310.5 605.5,312.8 606.0,315.1 606.5,317.3 607.0,317.8 607.5,314.7 608.0,311.5 608.5,308.2 609.0,305.2 609.5,302.7 610.0,300.2 610.5,297.7 611.0,295.1 611.5,289.4 612.0,281.1 612.5,272.4 613.0,263.3 613.5,258.9 614.0,257.7 614.5,256.6 615.0,255.4 615.5,252.7 616.0,245.0 616.5,245.0 617.0,245.0 617.5,245.0 618.0,245.0 618.5,245.0 619.0,245.0 619.5,245.0 620.0,245.0 620.5,245.0 621.0,245.0 621.5,245.0 622.0,245.0 622.5,248.0 623.0,251.0 623.5,254.0 624.0,257.0 624.5,260.0 625.0,265.2 625.5,271.3 626.0,277.2 626.5,282.8 627.0,288.4 627.5,292.2 628.0,295.4 628.5,298.6 629.0,301.7 629.5,304.7 630.0,306.2 630.5,306.6 631.0,307.0 631.5,307.3 632.0,307.7 632.5,308.5 633.0,309.9 633.5,311.3 634.0,312.7 634.5,314.0 635.0,315.3 635.5,316.6 636.0,313.9 636.5,308.9 637.0,303.6 637.5,298.0 638.0,296.1 638.5,296.1 639.0,296.1 639.5,296.1 640.0,286.4 640.5,270.9 641.0,254.2 641.5,245.0 642.0,245.0 642.5,245.0 643.0,245.0 643.5,245.0 644.0,245.0 644.5,245.0 645.0,245.0 645.5,245.0 646.0,251.1 646.5,263.8 647.0,275.8 647.5,287.1 648.0,291.8 648.5,294.4 649.0,297.0 649.5,295.7 650.0,291.3 650.5,286.8 651.0,282.1 651.5,277.4 652.0,276.9 652.5,277.4 653.0,278.0 653.5,278.6 654.0,286.2 654.5,294.9 655.0,303.1 655.5,305.7 656.0,305.1 656.5,304.6 657.0,304.2 657.5,306.6 658.0,309.0 658.5,311.4 659.0,310.9 659.5,309.9 660.0,309.0 660.5,308.0 661.0,310.0 661.5,312.3 662.0,314.6 662.5,316.9 663.0,318.3 663.5,319.6 664.0,320.8 664.5,322.1 665.0,317.0 665.5,311.1 666.0,304.9 666.5,298.4 667.0,280.1 667.5,259.1 668.0,251.8 668.5,251.0 669.0,250.2 669.5,250.0 670.0,250.0 670.0,342.3 669.5,342.5 669.0,342.7 668.5,342.9 668.0,343.1 667.5,343.3 667.0,343.5 666.5,343.7 666.0,343.9 665.5,344.1 665.0,344.2 664.5,343.7 664.0,343.2 663.5,342.7 663.0,342.2 662.5,341.7 662.0,341.2 661.5,340.7 661.0,340.2 660.5,339.7 660.0,339.2 659.5,338.7 659.0,338.2 658.5,337.7 658.0,337.2 657.5,336.7 657.0,336.3 656.5,336.0 656.0,335.8 655.5,335.5 655.0,335.3 654.5,335.0 654.0,334.8 653.5,334.5 653.0,334.0 652.5,333.2 652.0,332.5 651.5,331.7 651.0,331.0 650.5,330.3 650.0,329.5 649.5,328.8 649.0,328.0 648.5,327.3 648.0,326.5 647.5,325.8 647.0,325.0 646.5,324.3 646.0,323.5 645.5,322.8 645.0,322.8 644.5,323.1 644.0,323.3 643.5,323.6 643.0,323.8 642.5,324.1 642.0,324.3 641.5,324.6 641.0,325.4 640.5,326.4 640.0,327.4 639.5,328.4 639.0,329.4 638.5,330.4 638.0,331.4 637.5,332.4 637.0,332.9 636.5,333.4 636.0,333.9 635.5,334.4 635.0,334.9 634.5,335.4 634.0,335.9 633.5,336.4 633.0,336.1 632.5,335.9 632.0,335.6 631.5,335.4 631.0,335.1 630.5,334.9 630.0,334.6 629.5,334.3 629.0,333.8 628.5,333.3 628.0,332.8 627.5,332.3 627.0,331.8 626.5,331.3 626.0,330.8 625.5,330.2 625.0,329.5 624.5,328.7 624.0,328.0 623.5,327.3 623.0,326.5 622.5,325.8 622.0,325.0 621.5,324.7 621.0,324.9 620.5,325.2 620.0,325.4 619.5,325.7 619.0,325.9 618.5,326.2 618.0,326.4 617.5,327.1 617.0,328.1 616.5,329.1 616.0,330.1 615.5,331.0 615.0,332.0 614.5,333.0 614.0,334.0 613.5,334.8 613.0,335.4 612.5,336.0 612.0,336.7 611.5,337.3 611.0,337.9 610.5,338.5 610.0,339.2 609.5,339.4 609.0,339.5 608.5,339.7 608.0,339.8 607.5,339.9 607.0,340.0 606.5,340.2 606.0,340.3 605.5,339.6 605.0,338.8 604.5,338.1 604.0,337.4 603.5,336.6 603.0,335.9 602.5,335.1 602.0,334.4 601.5,333.4 601.0,332.4 600.5,331.4 600.0,330.3 599.5,329.3 599.0,328.3 598.5,327.3 598.0,326.4 597.5,325.9 597.0,325.4 596.5,324.9 596.0,324.5 595.5,324.0 595.0,323.5 594.5,323.0 594.0,322.7 593.5,323.2 593.0,323.7 592.5,324.2 592.0,324.7 591.5,325.2 591.0,325.7 590.5,326.2 590.0,327.2 589.5,328.9 589.0,330.6 588.5,332.4 588.0,334.1 587.5,335.8 587.0,337.5 586.5,339.3 586.0,340.6 585.5,341.3 585.0,342.0 584.5,342.6 584.0,343.3 583.5,344.0 583.0,343.7 582.5,342.7 582.0,341.7 581.5,340.7 581.0,339.7 580.5,338.6 580.0,337.6 579.5,336.6 579.0,335.6 578.5,334.6 578.0,333.8 577.5,333.1 577.0,332.3 576.5,331.6 576.0,330.9 575.5,330.1 575.0,329.4 574.5,328.6 574.0,327.3 573.5,325.8 573.0,324.3 572.5,322.8 572.0,321.2 571.5,319.7 571.0,318.2 570.5,316.7 570.0,316.4 569.5,316.2 569.0,315.9 568.5,315.7 568.0,315.4 567.5,315.2 567.0,314.9 566.5,314.7 566.0,315.2 565.5,315.7 565.0,316.2 564.5,316.8 564.0,317.3 563.5,317.8 563.0,318.3 562.5,319.2 562.0,321.4 561.5,323.7 561.0,326.0 560.5,328.2 560.0,330.5 559.5,332.8 559.0,335.0 558.5,336.5 558.0,336.8 557.5,337.0 557.0,337.2 556.5,337.5 556.0,337.8 555.5,338.0 555.0,338.2 554.5,338.2 554.0,337.7 553.5,337.2 553.0,336.7 552.5,336.1 552.0,335.6 551.5,335.1 551.0,334.6 550.5,333.8 550.0,332.8 549.5,331.8 549.0,330.8 548.5,329.9 548.0,328.9 547.5,327.9 547.0,326.9 546.5,325.7 546.0,324.5 545.5,323.2 545.0,322.0 544.5,320.7 544.0,319.5 543.5,318.2 543.0,317.0 542.5,316.3 542.0,315.8 541.5,315.3 541.0,314.8 540.5,314.3 540.0,313.8 539.5,313.3 539.0,312.8 538.5,313.3 538.0,314.1 537.5,314.9 537.0,315.7 536.5,316.6 536.0,317.4 535.5,318.2 535.0,319.0 534.5,319.8 534.0,320.9 533.5,323.6 533.0,326.4 532.5,329.1 532.0,331.8 531.5,334.5 531.0,336.2 530.5,336.3 530.0,336.4 529.5,336.5 529.0,336.7 528.5,336.8 528.0,336.9 527.5,337.0 527.0,336.9 526.5,336.7 526.0,336.4 525.5,336.2 525.0,335.9 524.5,335.7 524.0,335.4 523.5,335.2 523.0,334.9 522.5,334.7 522.0,334.4 521.5,334.2 521.0,333.1 520.5,331.9 520.0,330.6 519.5,329.4 519.0,328.1 518.5,326.9 518.0,325.6 517.5,324.4 517.0,322.9 516.5,321.4 516.0,319.9 515.5,318.3 515.0,316.8 514.5,315.3 514.0,313.8 513.5,312.7 513.0,313.4 512.5,314.1 512.0,314.8 511.5,315.4 511.0,316.1 510.5,317.4 510.0,319.7 509.5,322.0 509.0,324.3 508.5,326.5 508.0,328.8 507.5,330.7 507.0,332.1 506.5,333.4 506.0,334.8 505.5,336.1 505.0,337.5 504.5,337.7 504.0,337.2 503.5,336.7 503.0,336.2 502.5,335.7 502.0,335.2 501.5,334.7 501.0,334.2 500.5,333.1 500.0,331.9 499.5,330.6 499.0,329.4 498.5,328.1 498.0,326.9 497.5,325.6 497.0,324.4 496.5,322.8 496.0,321.1 495.5,319.5 495.0,317.9 494.5,316.2 494.0,314.6 493.5,315.3 493.0,315.9 492.5,316.6 492.0,317.3 491.5,318.0 491.0,318.7 490.5,319.7 490.0,320.7 489.5,321.6 489.0,322.6 488.5,323.6 488.0,324.1 487.5,322.4 487.0,320.7 486.5,319.0 486.0,317.3 485.5,315.6 485.0,315.9 484.5,319.1 484.0,322.3 483.5,325.5 483.0,328.7 482.5,331.9 482.0,333.5 481.5,334.0 481.0,334.5 480.5,335.0 480.0,335.5 479.5,336.0 479.0,336.5 478.5,337.0 478.0,336.8 477.5,336.4 477.0,336.0 476.5,335.6 476.0,335.3 475.5,334.9 475.0,334.5 474.5,334.1 474.0,333.9 473.5,333.6 473.0,333.4 472.5,333.1 472.0,332.9 471.5,332.7 471.0,332.4 470.5,332.2 470.0,331.2 469.5,330.2 469.0,329.2 468.5,328.2 468.0,327.2 467.5,326.2 467.0,325.2 466.5,324.1 466.0,322.9 465.5,321.6 465.0,320.4 464.5,319.1 464.0,317.9 463.5,316.6 463.0,315.4 462.5,314.9 462.0,315.6 461.5,316.4 461.0,317.1 460.5,317.9 460.0,318.6 459.5,319.4 459.0,320.1 458.5,320.5 458.0,320.7 457.5,320.8 457.0,321.0 456.5,321.2 456.0,321.3 455.5,321.5 455.0,321.7 454.5,321.9 454.0,322.0 453.5,322.2 453.0,322.4 452.5,323.6 452.0,325.1 451.5,326.6 451.0,328.1 450.5,329.6 450.0,331.1 449.5,332.6 449.0,334.1 448.5,334.5 448.0,334.9 447.5,335.3 447.0,335.6 446.5,336.0 446.0,336.4 445.5,336.8 445.0,336.9 444.5,336.1 444.0,335.2 443.5,334.4 443.0,333.6 442.5,332.7 442.0,331.2 441.5,328.5 441.0,325.9 440.5,323.3 440.0,320.7 439.5,318.1 439.0,316.3 438.5,315.8 438.0,315.3 437.5,314.8 437.0,314.3 436.5,313.8 436.0,313.3 435.5,312.8 435.0,312.8 434.5,313.2 434.0,313.6 433.5,314.0 433.0,314.4 432.5,314.8 432.0,315.2 431.5,315.6 431.0,316.0 430.5,316.4 430.0,319.4 429.5,323.0 429.0,326.6 428.5,330.2 428.0,332.1 427.5,334.1 427.0,336.1 426.5,338.0 426.0,337.3 425.5,336.7 425.0,336.0 424.5,335.3 424.0,334.6 423.5,334.0 423.0,333.2 422.5,332.5 422.0,331.7 421.5,331.0 421.0,330.2 420.5,329.5 420.0,328.7 419.5,328.0 419.0,327.4 418.5,326.7 418.0,326.1 417.5,325.4 417.0,324.8 416.5,323.5 416.0,321.1 415.5,318.7 415.0,316.4 414.5,314.0 414.0,311.6 413.5,310.3 413.0,309.7 412.5,309.1 412.0,308.4 411.5,307.8 411.0,307.2 410.5,306.6 410.0,305.9 409.5,306.3 409.0,306.9 408.5,307.6 408.0,308.2 407.5,308.8 407.0,309.4 406.5,310.1 406.0,310.7 405.5,311.7 405.0,312.6 404.5,313.6 404.0,314.6 403.5,314.6" fill="#ebebeb"/>
<polyline points="406.0,260.8 408.6,250.9 410.6,270.8 412.9,281.7 414.9,288.7 417.3,293.7 419.9,300.6 422.3,307.6 423.9,314.6 425.9,302.6 427.9,297.6 429.3,293.7 430.9,271.8 432.8,263.8 434.4,277.8 435.4,287.7 437.2,270.8 438.8,281.7 440.8,292.7 443.2,296.7 444.8,303.6 446.4,313.6 448.4,320.5 450.4,310.6 452.3,295.7 454.3,278.7 455.7,276.8 457.1,277.8 459.7,224.0 461.5,283.7 463.3,277.8 464.7,283.7 466.7,297.6 468.7,305.6 471.0,311.6 473.6,315.6 475.6,317.5 477.0,319.5 479.0,309.6 480.6,289.7 482.2,255.9 484.2,210.1 486.2,239.9 488.2,271.8 489.7,272.8 491.5,285.7 492.9,285.7 490.0,272.8 492.4,287.7 495.0,266.8 497.0,285.7 498.9,291.7 500.9,304.6 502.9,306.6 505.5,295.7 507.9,279.7 509.9,259.8 511.9,224.0 513.5,247.9 515.5,267.8 517.4,279.7 518.8,277.8 520.2,289.7 522.2,299.6 524.8,304.6 527.4,307.6 529.8,314.6 531.8,297.6 534.2,259.8 536.1,222.0 538.1,259.8 540.1,269.8 542.7,282.7 545.3,287.7 547.3,293.7 549.7,305.6 551.7,306.6 553.7,325.5 555.6,311.6 557.6,325.5 559.2,315.6 560.6,289.7 562.6,264.8 564.6,283.7 566.6,280.7 568.6,287.7 570.6,293.7 572.6,295.7 574.0,311.6 575.5,307.6 577.0,307.6 579.4,311.6 582.0,320.5 584.6,320.5 586.5,299.6 589.3,263.8 591.3,266.8 593.3,285.7 594.9,291.7 597.3,293.7 599.3,295.7 601.3,301.6 603.3,315.6 604.8,323.5 606.8,328.5 608.8,321.5 611.2,315.6 613.2,300.6 615.4,298.6 616.8,289.7 618.4,276.8 619.8,287.7 621.8,282.7 623.1,289.7 624.7,301.6 627.1,313.6 629.7,321.5 632.3,322.5 634.3,325.5 635.7,327.5 637.7,316.5 639.7,316.5 641.7,289.7 644.2,281.7 645.8,295.7 647.6,313.6 649.2,317.5 651.6,307.6 653.6,308.6 655.2,321.5 657.0,320.5 658.6,324.5 660.6,322.5 662.5,327.5 664.5,330.5 666.5,317.5 668.1,289.7 669.5,279.7" fill="none" stroke="#0072bd" stroke-width="1.5" stroke-linejoin="round"/>
<line x1="406.7" y1="283.7" x2="669.1" y2="311.6" stroke="#000" stroke-width="1.9"/>
<line x1="406.7" y1="282.7" x2="669.1" y2="310.6" stroke="#f00" stroke-width="1.6" stroke-dasharray="8.1 4.0"/>
<line x1="406.7" y1="284.7" x2="669.1" y2="312.6" stroke="#f00" stroke-width="1.6" stroke-dasharray="8.1 4.0"/>
</g>
<rect x="452.1" y="216.1" width="206.8" height="24.3" fill="#fff" stroke="#262626" stroke-width="1.1"/>
<line x1="456.1" y1="227.8" x2="494.1" y2="227.8" stroke="#000" stroke-width="2"/>
<text transform="translate(497.1,234.9) scale(1,1.04)" font-size="13.8" class="k">Slope: -1.98<tspan font-style="italic">μ</tspan>g·m<tspan dy="-5.7" font-size="10.5">-3</tspan><tspan dy="5.7">·year</tspan><tspan dy="-5.7" font-size="10.5">-1</tspan></text>
<text transform="translate(418.0,228.4) scale(1,1.04)" font-size="12.6" class="k">(d)</text>
<path d="M404.5 207.8H669.1V354.8H404.5ZM431.0 354.8v-2.6M431.0 207.8v2.6M483.9 354.8v-2.6M483.9 207.8v2.6M536.8 354.8v-2.6M536.8 207.8v2.6M589.7 354.8v-2.6M589.7 207.8v2.6M642.6 354.8v-2.6M642.6 207.8v2.6M404.5 354.8h2.6M669.1 354.8h-2.6M404.5 281.3h2.6M669.1 281.3h-2.6M404.5 207.8h2.6M669.1 207.8h-2.6" stroke="#262626" stroke-width="1.3" fill="none"/>
<text transform="translate(431.0,374.9) scale(1,1.04)" text-anchor="middle">2012</text>
<text transform="translate(483.9,374.9) scale(1,1.04)" text-anchor="middle">2014</text>
<text transform="translate(536.8,374.9) scale(1,1.04)" text-anchor="middle">2016</text>
<text transform="translate(589.7,374.9) scale(1,1.04)" text-anchor="middle">2018</text>
<text transform="translate(642.6,374.9) scale(1,1.04)" text-anchor="middle">2020</text>
<text transform="translate(398.1,360.7) scale(1,1.04)" text-anchor="end">0</text>
<text transform="translate(398.1,287.2) scale(1,1.04)" text-anchor="end">50</text>
<text transform="translate(398.1,213.7) scale(1,1.04)" text-anchor="end">100</text>
<text transform="translate(364.8,281.3) scale(1,1.04) rotate(-90)" text-anchor="middle" font-size="16.3">PM2.5 Concentration [<tspan font-style="italic">μ</tspan>g·m<tspan dy="-6.8" font-size="13.5">-3</tspan><tspan dy="6.8">]</tspan></text>
<path d="M82.5 411.1V557.7M135.5 411.1V557.7M188.5 411.1V557.7M241.5 411.1V557.7M294.5 411.1V557.7M56.0 543.0H321.0M56.0 513.7H321.0M56.0 484.4H321.0M56.0 455.1H321.0M56.0 425.8H321.0" stroke="#dfdfdf" stroke-width="1" fill="none"/>
<g clip-path="url(#ce)">
<polygon points="55.0,449.6 55.5,449.6 56.0,449.6 56.5,449.6 57.0,449.6 57.5,449.6 58.0,447.8 58.5,438.3 59.0,428.8 59.5,419.3 60.0,409.8 60.5,404.9 61.0,408.6 61.5,412.4 62.0,416.1 62.5,417.8 63.0,417.2 63.5,416.6 64.0,416.0 64.5,417.0 65.0,419.1 65.5,421.3 66.0,424.0 66.5,429.0 67.0,434.0 67.5,423.4 68.0,408.4 68.5,393.4 69.0,378.4 69.5,386.0 70.0,396.0 70.5,406.0 71.0,411.6 71.5,413.1 72.0,414.6 72.5,416.1 73.0,417.6 73.5,423.8 74.0,432.3 74.5,440.8 75.0,449.3 75.5,457.8 76.0,458.9 76.5,458.4 77.0,457.9 77.5,457.4 78.0,456.9 78.5,456.6 79.0,456.4 79.5,456.1 80.0,455.9 80.5,455.5 81.0,454.4 81.5,453.4 82.0,452.3 82.5,447.0 83.0,440.4 83.5,433.7 84.0,429.3 84.5,425.4 85.0,421.5 85.5,419.5 86.0,419.9 86.5,420.2 87.0,420.0 87.5,411.9 88.0,403.8 88.5,395.7 89.0,390.8 89.5,400.3 90.0,409.8 90.5,419.3 91.0,428.8 91.5,436.4 92.0,440.1 92.5,443.9 93.0,447.6 93.5,443.3 94.0,429.8 94.5,416.3 95.0,402.8 95.5,389.3 96.0,397.2 96.5,417.9 97.0,438.6 97.5,454.7 98.0,455.7 98.5,456.7 99.0,457.7 99.5,458.7 100.0,457.7 100.5,453.7 101.0,449.7 101.5,445.7 102.0,441.7 102.5,439.6 103.0,439.1 103.5,438.6 104.0,438.1 104.5,437.6 105.0,439.0 105.5,441.1 106.0,443.3 106.5,445.9 107.0,449.4 107.5,452.9 108.0,456.4 108.5,459.9 109.0,459.9 109.5,456.1 110.0,452.2 110.5,448.4 111.0,444.5 111.5,440.7 112.0,436.9 112.5,433.4 113.0,429.9 113.5,426.4 114.0,422.9 114.5,420.4 115.0,419.9 115.5,419.4 116.0,418.9 116.5,418.4 117.0,420.9 117.5,426.6 118.0,432.3 118.5,437.6 119.0,438.5 119.5,439.5 120.0,440.4 120.5,439.7 121.0,433.1 121.5,426.6 122.0,420.0 122.5,421.5 123.0,438.5 123.5,455.5 124.0,472.5 124.5,483.8 125.0,480.6 125.5,477.4 126.0,474.2 126.5,473.2 127.0,472.4 127.5,471.7 128.0,470.9 128.5,470.2 129.0,469.4 129.5,468.7 130.0,467.9 130.5,467.2 131.0,465.8 131.5,461.8 132.0,457.8 132.5,453.8 133.0,449.8 133.5,445.3 134.0,440.1 134.5,434.8 135.0,429.6 135.5,424.3 136.0,426.0 136.5,434.2 137.0,442.4 137.5,448.8 138.0,442.3 138.5,435.8 139.0,429.3 139.5,422.8 140.0,419.1 140.5,422.5 141.0,426.0 141.5,429.4 142.0,431.8 142.5,432.5 143.0,433.3 143.5,434.0 144.0,434.8 144.5,435.8 145.0,437.0 145.5,438.3 146.0,439.5 146.5,432.5 147.0,421.8 147.5,411.0 148.0,400.3 148.5,389.5 149.0,391.9 149.5,396.6 150.0,401.4 150.5,406.1 151.0,410.9 151.5,414.1 152.0,417.4 152.5,420.6 153.0,423.9 153.5,427.2 154.0,430.9 154.5,434.7 155.0,438.4 155.5,442.2 156.0,446.7 156.5,452.7 157.0,458.8 157.5,464.9 158.0,462.7 158.5,459.9 159.0,457.0 159.5,457.8 160.0,461.8 160.5,465.8 161.0,469.8 161.5,473.8 162.0,471.0 162.5,465.0 163.0,459.1 163.5,453.1 164.0,447.0 164.5,440.7 165.0,434.5 165.5,428.2 166.0,422.0 166.5,424.2 167.0,426.7 167.5,429.2 168.0,431.7 168.5,434.0 169.0,435.3 169.5,436.5 170.0,437.8 170.5,439.0 171.0,440.7 171.5,443.5 172.0,446.3 172.5,449.1 173.0,446.6 173.5,436.1 174.0,425.6 174.5,415.1 175.0,404.6 175.5,403.8 176.0,410.5 176.5,417.3 177.0,424.0 177.5,430.8 178.0,435.5 178.5,439.5 179.0,443.5 179.5,447.5 180.0,451.5 180.5,454.2 181.0,456.7 181.5,459.2 182.0,459.6 182.5,457.9 183.0,456.1 183.5,454.4 184.0,453.6 184.5,452.9 185.0,452.1 185.5,451.4 186.0,450.4 186.5,448.8 187.0,447.2 187.5,445.5 188.0,443.9 188.5,442.3 189.0,440.6 189.5,439.0 190.0,437.4 190.5,437.0 191.0,439.2 191.5,441.4 192.0,443.6 192.5,442.2 193.0,436.8 193.5,431.4 194.0,426.0 194.5,420.6 195.0,415.1 195.5,414.1 196.0,415.4 196.5,416.6 197.0,417.9 197.5,421.1 198.0,424.8 198.5,428.6 199.0,432.3 199.5,432.9 200.0,433.1 200.5,433.4 201.0,433.6 201.5,434.0 202.0,436.5 202.5,439.0 203.0,441.5 203.5,446.2 204.0,451.9 204.5,457.6 205.0,464.1 205.5,472.4 206.0,480.7 206.5,483.9 207.0,478.6 207.5,473.2 208.0,467.9 208.5,470.9 209.0,474.2 209.5,477.4 210.0,475.7 210.5,470.7 211.0,465.7 211.5,460.7 212.0,460.6 212.5,462.5 213.0,464.4 213.5,466.3 214.0,464.0 214.5,461.0 215.0,458.0 215.5,455.0 216.0,452.0 216.5,451.5 217.0,451.0 217.5,450.5 218.0,450.0 218.5,449.3 219.0,447.1 219.5,445.0 220.0,442.8 220.5,441.0 221.0,439.2 221.5,437.4 222.0,438.0 222.5,442.6 223.0,447.2 223.5,452.0 224.0,457.0 224.5,462.0 225.0,466.2 225.5,461.9 226.0,457.7 226.5,453.4 227.0,447.2 227.5,440.1 228.0,433.0 228.5,440.1 229.0,451.2 229.5,462.2 230.0,467.6 230.5,464.0 231.0,460.4 231.5,456.9 232.0,461.9 232.5,466.9 233.0,471.6 233.5,473.7 234.0,475.9 234.5,478.0 235.0,479.7 235.5,481.1 236.0,482.5 236.5,482.2 237.0,477.8 237.5,473.4 238.0,469.0 238.5,465.2 239.0,462.1 239.5,458.9 240.0,455.8 240.5,453.9 241.0,452.8 241.5,451.7 242.0,451.0 242.5,451.9 243.0,452.9 243.5,453.8 244.0,454.7 244.5,455.4 245.0,456.1 245.5,456.8 246.0,455.7 246.5,454.5 247.0,453.2 247.5,452.0 248.0,452.3 248.5,452.5 249.0,452.8 249.5,453.0 250.0,453.5 250.5,454.7 251.0,456.0 251.5,457.2 252.0,458.5 252.5,460.6 253.0,464.4 253.5,468.1 254.0,471.6 254.5,473.1 255.0,474.6 255.5,476.1 256.0,477.6 256.5,479.2 257.0,481.2 257.5,483.2 258.0,485.2 258.5,487.2 259.0,487.5 259.5,485.5 260.0,483.5 260.5,481.5 261.0,479.5 261.5,478.2 262.0,477.5 262.5,476.7 263.0,476.0 263.5,475.2 264.0,474.5 264.5,473.7 265.0,473.0 265.5,472.2 266.0,471.5 266.5,468.7 267.0,465.7 267.5,462.7 268.0,459.7 268.5,456.6 269.0,452.3 269.5,448.0 270.0,443.8 270.5,441.6 271.0,440.6 271.5,439.5 272.0,438.8 272.5,439.0 273.0,439.3 273.5,439.5 274.0,439.8 274.5,440.7 275.0,442.6 275.5,444.5 276.0,446.4 276.5,450.4 277.0,456.0 277.5,461.6 278.0,467.2 278.5,466.9 279.0,463.9 279.5,460.9 280.0,457.9 280.5,454.9 281.0,458.7 281.5,463.7 282.0,468.7 282.5,472.3 283.0,474.3 283.5,476.3 284.0,478.3 284.5,480.3 285.0,480.2 285.5,478.7 286.0,477.2 286.5,475.7 287.0,474.2 287.5,475.0 288.0,476.5 288.5,478.0 289.0,479.5 289.5,481.0 290.0,479.8 290.5,478.3 291.0,476.9 291.5,474.3 292.0,470.5 292.5,466.8 293.0,463.0 293.5,460.1 294.0,457.6 294.5,455.1 295.0,452.6 295.5,449.2 296.0,445.7 296.5,442.1 297.0,443.5 297.5,452.8 298.0,462.1 298.5,471.4 299.0,469.5 299.5,467.7 300.0,465.8 300.5,463.9 301.0,462.0 301.5,460.2 302.0,458.3 302.5,456.2 303.0,453.3 303.5,450.4 304.0,447.6 304.5,442.9 305.0,437.9 305.5,436.0 306.0,438.2 306.5,440.4 307.0,442.6 307.5,440.1 308.0,434.1 308.5,428.0 309.0,422.5 309.5,419.5 310.0,416.5 310.5,436.3 311.0,463.8 311.5,491.3 312.0,490.0 312.5,483.3 313.0,476.7 313.5,478.1 314.0,480.1 314.5,482.1 315.0,484.1 315.5,485.8 316.0,483.8 316.5,481.8 317.0,479.8 317.5,477.8 318.0,475.8 318.5,473.9 319.0,472.0 319.5,470.2 320.0,469.0 320.5,469.0 321.0,469.0 321.5,469.0 322.0,469.0 322.0,585.0 321.5,585.0 321.0,585.0 320.5,585.0 320.0,585.0 319.5,586.2 319.0,588.0 318.5,589.9 318.0,591.8 317.5,593.8 317.0,595.8 316.5,597.8 316.0,599.8 315.5,601.8 315.0,600.1 314.5,598.1 314.0,596.1 313.5,594.1 313.0,592.7 312.5,599.3 312.0,606.0 311.5,607.3 311.0,579.8 310.5,552.3 310.0,532.5 309.5,535.5 309.0,538.5 308.5,544.0 308.0,550.1 307.5,556.1 307.0,558.6 306.5,556.4 306.0,554.2 305.5,552.0 305.0,553.9 304.5,558.9 304.0,563.6 303.5,566.4 303.0,569.3 302.5,572.2 302.0,574.3 301.5,576.2 301.0,578.0 300.5,579.9 300.0,581.8 299.5,583.7 299.0,585.5 298.5,587.4 298.0,578.1 297.5,568.8 297.0,559.5 296.5,558.1 296.0,561.7 295.5,565.2 295.0,568.6 294.5,571.1 294.0,573.6 293.5,576.1 293.0,579.0 292.5,582.8 292.0,586.5 291.5,590.3 291.0,592.9 290.5,594.3 290.0,595.8 289.5,597.0 289.0,595.5 288.5,594.0 288.0,592.5 287.5,591.0 287.0,590.2 286.5,591.7 286.0,593.2 285.5,594.7 285.0,596.2 284.5,596.3 284.0,594.3 283.5,592.3 283.0,590.3 282.5,588.3 282.0,584.7 281.5,579.7 281.0,574.7 280.5,570.9 280.0,573.9 279.5,576.9 279.0,579.9 278.5,582.9 278.0,583.2 277.5,577.6 277.0,572.0 276.5,566.4 276.0,562.4 275.5,560.5 275.0,558.6 274.5,556.7 274.0,555.8 273.5,555.5 273.0,555.3 272.5,555.0 272.0,554.8 271.5,555.5 271.0,556.6 270.5,557.6 270.0,559.8 269.5,564.0 269.0,568.3 268.5,572.6 268.0,575.7 267.5,578.7 267.0,581.7 266.5,584.7 266.0,587.5 265.5,588.2 265.0,589.0 264.5,589.7 264.0,590.5 263.5,591.2 263.0,592.0 262.5,592.7 262.0,593.5 261.5,594.2 261.0,595.5 260.5,597.5 260.0,599.5 259.5,601.5 259.0,603.5 258.5,603.2 258.0,601.2 257.5,599.2 257.0,597.2 256.5,595.2 256.0,593.6 255.5,592.1 255.0,590.6 254.5,589.1 254.0,587.6 253.5,584.1 253.0,580.4 252.5,576.6 252.0,574.5 251.5,573.2 251.0,572.0 250.5,570.7 250.0,569.5 249.5,569.0 249.0,568.8 248.5,568.5 248.0,568.3 247.5,568.0 247.0,569.2 246.5,570.5 246.0,571.7 245.5,572.8 245.0,572.1 244.5,571.4 244.0,570.7 243.5,569.8 243.0,568.9 242.5,567.9 242.0,567.0 241.5,567.7 241.0,568.8 240.5,569.9 240.0,571.8 239.5,574.9 239.0,578.1 238.5,581.2 238.0,585.0 237.5,589.4 237.0,593.8 236.5,598.2 236.0,598.5 235.5,597.1 235.0,595.7 234.5,594.0 234.0,591.9 233.5,589.7 233.0,587.6 232.5,582.9 232.0,577.9 231.5,572.9 231.0,576.4 230.5,580.0 230.0,583.6 229.5,578.2 229.0,567.2 228.5,556.1 228.0,549.0 227.5,556.1 227.0,563.2 226.5,569.4 226.0,573.7 225.5,577.9 225.0,582.2 224.5,578.0 224.0,573.0 223.5,568.0 223.0,563.2 222.5,558.6 222.0,554.0 221.5,553.4 221.0,555.2 220.5,557.0 220.0,558.8 219.5,561.0 219.0,563.1 218.5,565.3 218.0,566.0 217.5,566.5 217.0,567.0 216.5,567.5 216.0,568.0 215.5,571.0 215.0,574.0 214.5,577.0 214.0,580.0 213.5,582.3 213.0,580.4 212.5,578.5 212.0,576.6 211.5,576.7 211.0,581.7 210.5,586.7 210.0,591.7 209.5,593.4 209.0,590.2 208.5,586.9 208.0,583.9 207.5,589.2 207.0,594.6 206.5,599.9 206.0,596.7 205.5,588.4 205.0,580.1 204.5,573.6 204.0,567.9 203.5,562.2 203.0,557.5 202.5,555.0 202.0,552.5 201.5,550.0 201.0,549.6 200.5,549.4 200.0,549.1 199.5,548.9 199.0,548.3 198.5,544.6 198.0,540.8 197.5,537.1 197.0,533.9 196.5,532.6 196.0,531.4 195.5,530.1 195.0,531.1 194.5,536.6 194.0,542.0 193.5,547.4 193.0,552.8 192.5,558.2 192.0,559.6 191.5,557.4 191.0,555.2 190.5,553.0 190.0,553.4 189.5,555.0 189.0,556.6 188.5,558.3 188.0,559.9 187.5,561.5 187.0,563.2 186.5,564.8 186.0,566.4 185.5,567.4 185.0,568.1 184.5,568.9 184.0,569.6 183.5,570.4 183.0,572.1 182.5,573.9 182.0,575.6 181.5,575.2 181.0,572.7 180.5,570.2 180.0,567.5 179.5,563.5 179.0,559.5 178.5,555.5 178.0,551.5 177.5,546.8 177.0,540.0 176.5,533.3 176.0,526.5 175.5,519.8 175.0,520.6 174.5,531.1 174.0,541.6 173.5,552.1 173.0,562.6 172.5,565.1 172.0,562.3 171.5,559.5 171.0,556.7 170.5,555.0 170.0,553.8 169.5,552.5 169.0,551.3 168.5,550.0 168.0,547.7 167.5,545.2 167.0,542.7 166.5,540.2 166.0,538.0 165.5,544.2 165.0,550.5 164.5,556.7 164.0,563.0 163.5,569.1 163.0,575.1 162.5,581.0 162.0,587.0 161.5,589.8 161.0,585.8 160.5,581.8 160.0,577.8 159.5,573.8 159.0,573.0 158.5,575.9 158.0,578.7 157.5,580.9 157.0,574.8 156.5,568.7 156.0,562.7 155.5,558.2 155.0,554.4 154.5,550.7 154.0,546.9 153.5,543.2 153.0,539.9 152.5,536.6 152.0,533.4 151.5,530.1 151.0,526.9 150.5,522.1 150.0,517.4 149.5,512.6 149.0,507.9 148.5,505.5 148.0,516.3 147.5,527.0 147.0,537.8 146.5,548.5 146.0,555.5 145.5,554.3 145.0,553.0 144.5,551.8 144.0,550.8 143.5,550.0 143.0,549.3 142.5,548.5 142.0,547.8 141.5,545.4 141.0,542.0 140.5,538.5 140.0,535.1 139.5,538.8 139.0,545.3 138.5,551.8 138.0,558.3 137.5,564.8 137.0,558.4 136.5,550.2 136.0,542.0 135.5,540.3 135.0,545.6 134.5,550.8 134.0,556.1 133.5,561.3 133.0,565.8 132.5,569.8 132.0,573.8 131.5,577.8 131.0,581.8 130.5,583.2 130.0,583.9 129.5,584.7 129.0,585.4 128.5,586.2 128.0,586.9 127.5,587.7 127.0,588.4 126.5,589.2 126.0,590.2 125.5,593.4 125.0,596.6 124.5,599.8 124.0,588.5 123.5,571.5 123.0,554.5 122.5,537.5 122.0,536.0 121.5,542.6 121.0,549.1 120.5,555.7 120.0,556.4 119.5,555.5 119.0,554.5 118.5,553.6 118.0,548.3 117.5,542.6 117.0,536.9 116.5,534.4 116.0,534.9 115.5,535.4 115.0,535.9 114.5,536.4 114.0,538.9 113.5,542.4 113.0,545.9 112.5,549.4 112.0,552.9 111.5,556.7 111.0,560.5 110.5,564.4 110.0,568.2 109.5,572.1 109.0,575.9 108.5,575.9 108.0,572.4 107.5,568.9 107.0,565.4 106.5,561.9 106.0,559.3 105.5,557.1 105.0,555.0 104.5,553.6 104.0,554.1 103.5,554.6 103.0,555.1 102.5,555.6 102.0,557.7 101.5,561.7 101.0,565.7 100.5,569.7 100.0,573.7 99.5,574.7 99.0,573.7 98.5,572.7 98.0,571.7 97.5,570.7 97.0,554.6 96.5,533.9 96.0,513.2 95.5,505.3 95.0,518.8 94.5,532.3 94.0,545.8 93.5,559.3 93.0,563.6 92.5,559.9 92.0,556.1 91.5,552.4 91.0,544.8 90.5,535.3 90.0,525.8 89.5,516.3 89.0,506.8 88.5,511.7 88.0,519.8 87.5,527.9 87.0,536.0 86.5,536.2 86.0,535.9 85.5,535.5 85.0,537.5 84.5,541.4 84.0,545.3 83.5,549.7 83.0,556.4 82.5,563.0 82.0,568.3 81.5,569.4 81.0,570.4 80.5,571.5 80.0,571.9 79.5,572.1 79.0,572.4 78.5,572.6 78.0,572.9 77.5,573.4 77.0,573.9 76.5,574.4 76.0,574.9 75.5,573.8 75.0,565.3 74.5,556.8 74.0,548.3 73.5,539.8 73.0,533.6 72.5,532.1 72.0,530.6 71.5,529.1 71.0,527.6 70.5,522.0 70.0,512.0 69.5,502.0 69.0,494.4 68.5,509.4 68.0,524.4 67.5,539.4 67.0,550.0 66.5,545.0 66.0,540.0 65.5,537.3 65.0,535.1 64.5,533.0 64.0,532.0 63.5,532.6 63.0,533.2 62.5,533.8 62.0,532.1 61.5,528.4 61.0,524.6 60.5,520.9 60.0,525.8 59.5,535.3 59.0,544.8 58.5,554.3 58.0,563.8 57.5,565.6 57.0,565.6 56.5,565.6 56.0,565.6 55.5,565.6 55.0,565.6" fill="#ebebeb"/>
<polyline points="57.9,507.6 60.3,461.6 62.3,476.1 64.2,473.7 65.9,481.0 67.1,493.1 69.0,435.0 70.7,468.9 73.2,476.1 75.6,517.3 78.0,514.9 80.4,513.7 82.1,510.0 83.6,490.7 85.3,477.3 87.0,478.5 88.9,447.1 91.3,493.1 93.3,507.6 95.7,442.2 97.4,512.5 99.8,517.3 102.2,497.9 104.6,495.5 106.3,502.8 108.8,519.7 111.9,495.5 114.3,478.5 116.8,476.1 118.5,495.5 120.4,499.1 122.3,473.7 124.4,542.7 126.1,531.8 128.5,528.2 130.9,524.6 133.3,505.2 135.7,479.8 137.4,507.6 139.9,476.1 141.8,489.4 144.2,493.1 146.2,497.9 148.6,445.9 151.0,468.9 153.4,484.6 155.8,502.8 157.5,523.4 159.2,513.7 161.7,533.0 163.6,510.0 166.0,479.8 168.4,491.9 170.9,497.9 172.8,508.8 175.2,458.0 177.6,490.7 180.1,510.0 181.8,518.5 183.5,512.5 185.9,508.8 190.3,494.3 192.3,502.8 195.2,471.3 197.1,476.1 199.0,490.7 201.5,491.9 203.2,500.3 204.9,519.7 206.3,543.9 208.0,525.8 209.7,536.7 211.6,517.3 213.6,524.6 216.0,510.0 218.4,507.6 220.1,500.3 221.8,494.3 223.3,507.6 225.0,524.6 226.7,510.0 228.1,489.4 229.8,527.0 231.5,514.9 233.0,529.4 234.6,536.7 236.3,541.5 238.3,524.6 240.2,512.5 241.9,508.8 243.9,512.5 245.5,514.9 247.5,510.0 249.9,511.2 252.3,517.3 253.9,529.4 256.4,536.7 258.8,546.4 261.2,536.7 263.6,533.0 266.0,529.4 268.5,514.9 270.2,500.3 271.9,496.7 274.3,497.9 276.2,505.2 278.2,527.0 280.6,512.5 282.3,529.4 284.7,539.1 287.1,531.8 289.5,539.1 291.2,534.3 293.2,519.7 295.1,510.0 296.8,497.9 298.5,529.4 300.4,522.1 302.4,514.9 304.1,505.2 305.3,493.1 307.2,501.6 308.9,481.0 310.1,473.7 311.6,553.6 313.0,534.3 315.5,543.9 317.9,534.3 319.8,527.0 322.7,527.0" fill="none" stroke="#0072bd" stroke-width="1.5" stroke-linejoin="round"/>
<line x1="58.2" y1="487.0" x2="321.0" y2="527.0" stroke="#000" stroke-width="1.9"/>
<line x1="58.2" y1="484.8" x2="321.0" y2="524.5" stroke="#f00" stroke-width="1.6" stroke-dasharray="8.1 4.0"/>
<line x1="58.2" y1="489.2" x2="321.0" y2="529.5" stroke="#f00" stroke-width="1.6" stroke-dasharray="8.1 4.0"/>
</g>
<rect x="146.1" y="419.4" width="164.3" height="24.3" fill="#fff" stroke="#262626" stroke-width="1.1"/>
<line x1="150.1" y1="431.1" x2="188.1" y2="431.1" stroke="#000" stroke-width="2"/>
<text transform="translate(191.1,438.2) scale(1,1.04)" font-size="13.8" class="k">Slope: -0.03·year<tspan dy="-5.7" font-size="10.5">-1</tspan></text>
<text transform="translate(69.3,437.2) scale(1,1.04)" font-size="12.6" class="k">(e)</text>
<path d="M56.0 411.1H321.0V557.7H56.0ZM82.5 557.7v-2.6M82.5 411.1v2.6M135.5 557.7v-2.6M135.5 411.1v2.6M188.5 557.7v-2.6M188.5 411.1v2.6M241.5 557.7v-2.6M241.5 411.1v2.6M294.5 557.7v-2.6M294.5 411.1v2.6M56.0 543.0h2.6M321.0 543.0h-2.6M56.0 513.7h2.6M321.0 513.7h-2.6M56.0 484.4h2.6M321.0 484.4h-2.6M56.0 455.1h2.6M321.0 455.1h-2.6M56.0 425.8h2.6M321.0 425.8h-2.6" stroke="#262626" stroke-width="1.3" fill="none"/>
<text transform="translate(82.5,577.8) scale(1,1.04)" text-anchor="middle">2012</text>
<text transform="translate(135.5,577.8) scale(1,1.04)" text-anchor="middle">2014</text>
<text transform="translate(188.5,577.8) scale(1,1.04)" text-anchor="middle">2016</text>
<text transform="translate(241.5,577.8) scale(1,1.04)" text-anchor="middle">2018</text>
<text transform="translate(294.5,577.8) scale(1,1.04)" text-anchor="middle">2020</text>
<text transform="translate(49.6,548.9) scale(1,1.04)" text-anchor="end">0.4</text>
<text transform="translate(49.6,519.6) scale(1,1.04)" text-anchor="end">0.6</text>
<text transform="translate(49.6,490.3) scale(1,1.04)" text-anchor="end">0.8</text>
<text transform="translate(49.6,461.0) scale(1,1.04)" text-anchor="end">1</text>
<text transform="translate(49.6,431.7) scale(1,1.04)" text-anchor="end">1.2</text>
<text transform="translate(21.400000000000002,484.4) scale(1,1.04) rotate(-90)" text-anchor="middle" font-size="16.3">AOD @550 nm [-]</text>
<path d="M431.0 411.1V557.7M483.9 411.1V557.7M536.8 411.1V557.7M589.7 411.1V557.7M642.6 411.1V557.7M404.5 550.0H669.1M404.5 519.1H669.1M404.5 488.3H669.1M404.5 457.4H669.1M404.5 426.5H669.1" stroke="#dfdfdf" stroke-width="1" fill="none"/>
<g clip-path="url(#cf)">
<polygon points="403.5,443.7 404.0,443.7 404.5,443.8 405.0,444.5 405.5,445.2 406.0,446.0 406.5,446.7 407.0,447.4 407.5,448.1 408.0,463.4 408.5,478.1 409.0,476.4 409.5,474.1 410.0,471.8 410.5,471.3 411.0,472.3 411.5,473.3 412.0,477.9 412.5,482.8 413.0,487.5 413.5,487.5 414.0,482.8 414.5,477.9 415.0,472.9 415.5,478.5 416.0,486.0 416.5,493.2 417.0,500.2 417.5,500.4 418.0,496.5 418.5,492.5 419.0,488.4 419.5,484.6 420.0,482.7 420.5,480.7 421.0,478.7 421.5,476.6 422.0,468.9 422.5,458.1 423.0,452.9 423.5,451.2 424.0,449.5 424.5,448.9 425.0,450.4 425.5,451.9 426.0,453.4 426.5,454.9 427.0,454.4 427.5,452.4 428.0,455.1 428.5,454.8 429.0,450.7 429.5,446.5 430.0,444.2 430.5,443.2 431.0,442.2 431.5,441.7 432.0,445.2 432.5,448.7 433.0,452.2 433.5,455.7 434.0,458.1 434.5,458.6 435.0,459.1 435.5,459.6 436.0,460.1 436.5,460.6 437.0,465.6 437.5,473.4 438.0,480.9 438.5,488.2 439.0,495.2 439.5,497.2 440.0,497.5 440.5,497.8 441.0,498.0 441.5,498.4 442.0,499.3 442.5,500.2 443.0,501.1 443.5,501.9 444.0,502.7 444.5,497.0 445.0,491.0 445.5,484.9 446.0,478.5 446.5,468.2 447.0,456.4 447.5,444.8 448.0,447.5 448.5,450.1 449.0,452.8 449.5,455.5 450.0,458.1 450.5,460.2 451.0,459.9 451.5,459.6 452.0,459.2 452.5,458.9 453.0,458.6 453.5,458.2 454.0,458.0 454.5,459.4 455.0,460.7 455.5,462.0 456.0,463.4 456.5,464.7 457.0,466.0 457.5,467.4 458.0,467.7 458.5,468.1 459.0,480.0 459.5,484.4 460.0,481.0 460.5,477.5 461.0,474.0 461.5,470.9 462.0,473.6 462.5,476.2 463.0,478.9 463.5,481.1 464.0,480.8 464.5,480.5 465.0,480.1 465.5,480.2 466.0,482.2 466.5,484.1 467.0,486.0 467.5,487.9 468.0,489.7 468.5,493.4 469.0,497.1 469.5,500.7 470.0,504.3 470.5,502.9 471.0,495.6 471.5,487.9 472.0,480.0 472.5,471.7 473.0,463.9 473.5,456.3 474.0,448.4 474.5,441.6 475.0,438.9 475.5,436.3 476.0,433.6 476.5,430.9 477.0,428.3 477.5,425.6 478.0,424.7 478.5,424.7 479.0,424.7 479.5,424.7 480.0,424.7 480.5,428.5 481.0,432.5 481.5,436.5 482.0,440.5 482.5,444.2 483.0,448.0 483.5,455.3 484.0,461.8 484.5,468.2 485.0,474.4 485.5,480.4 486.0,480.0 486.5,471.8 487.0,466.7 487.5,467.8 488.0,468.3 488.5,468.8 489.0,469.3 489.5,469.8 490.0,471.8 490.5,477.9 491.0,480.4 491.5,482.8 492.0,485.2 492.5,487.5 493.0,489.9 493.5,490.6 494.0,491.4 494.5,492.1 495.0,491.2 495.5,489.8 496.0,488.5 496.5,487.1 497.0,486.3 497.5,486.9 498.0,487.4 498.5,487.9 499.0,488.4 499.5,488.5 500.0,488.2 500.5,488.0 501.0,487.7 501.5,487.4 502.0,479.0 502.5,469.0 503.0,458.5 503.5,456.5 504.0,454.5 504.5,452.5 505.0,450.5 505.5,448.5 506.0,446.5 506.5,445.8 507.0,445.5 507.5,445.1 508.0,444.8 508.5,444.5 509.0,444.1 509.5,443.8 510.0,445.1 510.5,447.1 511.0,449.1 511.5,451.2 512.0,458.4 512.5,465.3 513.0,469.0 513.5,471.8 514.0,474.6 514.5,477.3 515.0,480.0 515.5,481.6 516.0,483.2 516.5,484.8 517.0,486.3 517.5,487.0 518.0,487.7 518.5,488.4 519.0,490.3 519.5,492.6 520.0,494.9 520.5,497.1 521.0,499.1 521.5,501.0 522.0,503.0 522.5,504.9 523.0,504.9 523.5,500.6 524.0,496.1 524.5,491.6 525.0,486.9 525.5,482.7 526.0,478.7 526.5,474.6 527.0,470.4 527.5,467.3 528.0,466.3 528.5,465.3 529.0,464.3 529.5,463.3 530.0,462.3 530.5,461.3 531.0,460.3 531.5,459.3 532.0,458.3 532.5,457.7 533.0,457.2 533.5,457.7 534.0,463.8 534.5,466.6 535.0,469.4 535.5,472.1 536.0,474.5 536.5,468.7 537.0,462.7 537.5,458.5 538.0,459.4 538.5,460.2 539.0,461.2 539.5,462.2 540.0,464.6 540.5,472.1 541.0,474.6 541.5,476.0 542.0,477.5 542.5,478.9 543.0,482.0 543.5,487.8 544.0,493.5 544.5,499.0 545.0,504.3 545.5,504.7 546.0,502.3 546.5,499.9 547.0,497.4 547.5,494.9 548.0,497.5 548.5,500.6 549.0,503.7 549.5,506.7 550.0,507.3 550.5,504.7 551.0,502.2 551.5,499.5 552.0,492.1 552.5,479.2 553.0,465.5 553.5,456.7 554.0,456.3 554.5,456.0 555.0,455.7 555.5,454.6 556.0,456.5 556.5,451.9 557.0,450.6 557.5,449.3 558.0,447.9 558.5,446.6 559.0,446.7 559.5,447.7 560.0,450.1 560.5,456.1 561.0,458.0 561.5,457.3 562.0,456.7 562.5,456.1 563.0,455.5 563.5,455.7 564.0,456.7 564.5,457.7 565.0,458.7 565.5,459.7 566.0,460.5 566.5,461.0 567.0,461.5 567.5,462.0 568.0,463.0 568.5,464.2 569.0,465.5 569.5,466.8 570.0,475.2 570.5,483.2 571.0,491.0 571.5,498.4 572.0,500.9 572.5,499.4 573.0,497.9 573.5,496.4 574.0,494.9 574.5,494.1 575.0,493.4 575.5,492.8 576.0,492.1 576.5,491.4 577.0,490.6 577.5,489.6 578.0,488.7 578.5,487.8 579.0,484.7 579.5,480.4 580.0,475.9 580.5,471.2 581.0,465.8 581.5,460.2 582.0,454.4 582.5,449.0 583.0,447.6 583.5,446.3 584.0,445.7 584.5,445.2 585.0,444.7 585.5,444.2 586.0,443.9 586.5,445.9 587.0,447.9 587.5,449.9 588.0,451.9 588.5,454.1 589.0,457.0 589.5,457.1 590.0,456.5 590.5,457.5 591.0,458.5 591.5,459.5 592.0,460.4 592.5,463.7 593.0,469.2 593.5,474.6 594.0,479.9 594.5,485.0 595.0,490.0 595.5,493.4 596.0,494.1 596.5,494.7 597.0,495.3 597.5,495.8 598.0,496.2 598.5,496.5 599.0,496.9 599.5,498.6 600.0,500.3 600.5,502.0 601.0,501.5 601.5,498.5 602.0,495.6 602.5,492.5 603.0,487.9 603.5,480.9 604.0,473.7 604.5,466.2 605.0,458.4 605.5,454.4 606.0,453.4 606.5,452.4 607.0,451.4 607.5,450.4 608.0,449.4 608.5,448.4 609.0,447.4 609.5,446.4 610.0,447.2 610.5,448.9 611.0,450.5 611.5,452.2 612.0,453.9 612.5,455.5 613.0,457.2 613.5,460.3 614.0,459.1 614.5,459.8 615.0,460.6 615.5,461.3 616.0,462.1 616.5,462.8 617.0,466.0 617.5,474.2 618.0,477.4 618.5,476.8 619.0,476.1 619.5,475.5 620.0,476.7 620.5,479.9 621.0,483.2 621.5,486.3 622.0,489.2 622.5,491.5 623.0,493.8 623.5,496.0 624.0,498.2 624.5,500.4 625.0,498.8 625.5,497.0 626.0,495.2 626.5,493.4 627.0,491.4 627.5,489.3 628.0,487.2 628.5,485.1 629.0,482.9 629.5,482.7 630.0,484.6 630.5,486.5 631.0,488.4 631.5,486.4 632.0,478.4 632.5,470.1 633.0,461.4 633.5,454.4 634.0,453.1 634.5,452.5 635.0,451.8 635.5,451.1 636.0,451.3 636.5,452.3 637.0,453.3 637.5,454.3 638.0,455.3 638.5,456.3 639.0,457.3 639.5,458.2 640.0,459.0 640.5,459.7 641.0,460.5 641.5,462.7 642.0,466.3 642.5,463.9 643.0,463.5 643.5,464.2 644.0,465.0 644.5,465.3 645.0,466.6 645.5,473.4 646.0,480.0 646.5,482.1 647.0,480.1 647.5,478.2 648.0,476.2 648.5,476.0 649.0,478.0 649.5,479.9 650.0,481.9 650.5,484.0 651.0,486.6 651.5,489.1 652.0,491.5 652.5,493.9 653.0,496.0 653.5,498.1 654.0,500.1 654.5,501.8 655.0,502.1 655.5,502.5 656.0,502.9 656.5,501.3 657.0,499.6 657.5,498.0 658.0,496.3 658.5,491.6 659.0,484.9 659.5,478.0 660.0,470.9 660.5,468.6 661.0,467.3 661.5,466.0 662.0,464.7 662.5,457.3 663.0,446.1 663.5,445.7 664.0,445.4 664.5,445.1 665.0,444.7 665.5,444.4 666.0,444.1 666.5,443.7 667.0,444.2 667.5,444.7 668.0,446.9 668.5,451.2 669.0,454.6 669.5,457.9 670.0,461.2 670.0,522.6 669.5,522.8 669.0,523.1 668.5,523.3 668.0,523.6 667.5,523.8 667.0,524.1 666.5,524.4 666.0,525.4 665.5,526.4 665.0,527.4 664.5,528.4 664.0,529.4 663.5,530.4 663.0,531.4 662.5,532.1 662.0,532.9 661.5,533.6 661.0,534.4 660.5,535.1 660.0,535.9 659.5,536.6 659.0,537.4 658.5,538.1 658.0,538.6 657.5,538.9 657.0,539.1 656.5,539.4 656.0,539.6 655.5,539.9 655.0,540.1 654.5,540.4 654.0,540.6 653.5,540.9 653.0,540.1 652.5,539.4 652.0,538.6 651.5,537.9 651.0,537.1 650.5,536.4 650.0,535.6 649.5,534.9 649.0,534.1 648.5,533.4 648.0,532.6 647.5,531.9 647.0,531.1 646.5,530.4 646.0,529.6 645.5,528.9 645.0,528.1 644.5,527.4 644.0,526.6 643.5,526.4 643.0,526.1 642.5,525.9 642.0,525.6 641.5,525.4 641.0,525.1 640.5,524.9 640.0,524.6 639.5,524.4 639.0,524.6 638.5,525.1 638.0,525.6 637.5,526.1 637.0,526.6 636.5,527.1 636.0,527.6 635.5,528.1 635.0,528.6 634.5,529.1 634.0,529.9 633.5,530.6 633.0,531.4 632.5,532.1 632.0,532.9 631.5,533.6 631.0,534.4 630.5,535.1 630.0,535.9 629.5,536.5 629.0,537.0 628.5,537.5 628.0,538.0 627.5,538.5 627.0,539.0 626.5,539.5 626.0,540.0 625.5,540.5 625.0,540.8 624.5,540.3 624.0,539.8 623.5,539.3 623.0,538.8 622.5,538.3 622.0,537.8 621.5,537.3 621.0,536.8 620.5,536.3 620.0,535.6 619.5,534.9 619.0,534.1 618.5,533.4 618.0,532.6 617.5,531.9 617.0,531.1 616.5,530.4 616.0,529.6 615.5,528.9 615.0,528.1 614.5,527.4 614.0,526.6 613.5,525.9 613.0,525.1 612.5,524.4 612.0,523.6 611.5,522.9 611.0,522.1 610.5,522.2 610.0,522.5 609.5,522.8 609.0,523.2 608.5,523.5 608.0,523.8 607.5,524.2 607.0,524.7 606.5,525.3 606.0,526.0 605.5,526.7 605.0,527.3 604.5,528.0 604.0,528.7 603.5,529.7 603.0,531.0 602.5,532.3 602.0,533.7 601.5,535.0 601.0,536.3 600.5,537.7 600.0,538.8 599.5,539.4 599.0,540.1 598.5,540.8 598.0,541.4 597.5,542.1 597.0,542.8 596.5,543.1 596.0,542.3 595.5,541.6 595.0,540.8 594.5,540.1 594.0,539.3 593.5,538.6 593.0,537.8 592.5,537.1 592.0,536.3 591.5,535.6 591.0,534.8 590.5,534.1 590.0,533.3 589.5,532.6 589.0,531.8 588.5,531.1 588.0,530.3 587.5,529.6 587.0,528.8 586.5,528.1 586.0,527.3 585.5,526.6 585.0,525.8 584.5,525.1 584.0,524.3 583.5,523.6 583.0,522.8 582.5,522.1 582.0,522.2 581.5,522.5 581.0,522.9 580.5,523.2 580.0,523.5 579.5,523.9 579.0,524.2 578.5,524.8 578.0,525.6 577.5,526.3 577.0,527.1 576.5,527.8 576.0,528.6 575.5,529.3 575.0,530.1 574.5,530.8 574.0,531.5 573.5,531.8 573.0,532.1 572.5,532.5 572.0,532.8 571.5,533.1 571.0,533.5 570.5,533.7 570.0,532.9 569.5,532.2 569.0,531.4 568.5,530.7 568.0,529.9 567.5,529.2 567.0,528.4 566.5,527.7 566.0,526.9 565.5,526.0 565.0,525.0 564.5,524.0 564.0,523.0 563.5,522.0 563.0,521.0 562.5,520.0 562.0,519.9 561.5,520.6 561.0,521.2 560.5,521.9 560.0,522.6 559.5,523.2 559.0,523.9 558.5,524.7 558.0,525.7 557.5,526.7 557.0,527.7 556.5,528.7 556.0,529.7 555.5,530.7 555.0,531.6 554.5,532.3 554.0,532.9 553.5,533.6 553.0,534.3 552.5,534.9 552.0,535.6 551.5,536.2 551.0,536.4 550.5,536.7 550.0,536.9 549.5,537.2 549.0,537.4 548.5,537.7 548.0,537.9 547.5,538.2 547.0,538.4 546.5,538.2 546.0,537.7 545.5,537.2 545.0,536.7 544.5,536.2 544.0,535.7 543.5,535.2 543.0,534.7 542.5,534.2 542.0,533.6 541.5,533.0 541.0,532.3 540.5,531.6 540.0,531.0 539.5,530.3 539.0,529.6 538.5,528.9 538.0,527.9 537.5,526.9 537.0,525.9 536.5,524.9 536.0,523.9 535.5,522.9 535.0,521.9 534.5,524.4 534.0,525.4 533.5,526.4 533.0,527.4 532.5,528.4 532.0,529.4 531.5,530.4 531.0,531.4 530.5,532.1 530.0,532.9 529.5,533.6 529.0,534.4 528.5,535.1 528.0,535.9 527.5,536.6 527.0,537.4 526.5,538.1 526.0,538.8 525.5,539.5 525.0,540.2 524.5,540.8 524.0,541.5 523.5,542.2 523.0,542.8 522.5,543.0 522.0,542.3 521.5,541.7 521.0,541.0 520.5,540.3 520.0,539.7 519.5,539.0 519.0,538.2 518.5,537.2 518.0,536.2 517.5,535.2 517.0,534.2 516.5,533.2 516.0,532.2 515.5,531.2 515.0,530.2 514.5,529.2 514.0,528.2 513.5,527.2 513.0,526.2 512.5,525.2 512.0,524.3 511.5,523.9 511.0,523.6 510.5,523.3 510.0,522.9 509.5,522.6 509.0,522.3 508.5,521.9 508.0,523.2 507.5,524.5 507.0,525.9 506.5,527.2 506.0,528.5 505.5,529.9 505.0,531.2 504.5,532.2 504.0,533.2 503.5,534.2 503.0,535.2 502.5,536.2 502.0,537.2 501.5,538.2 501.0,538.3 500.5,538.1 500.0,537.8 499.5,537.6 499.0,537.3 498.5,537.1 498.0,536.8 497.5,536.6 497.0,536.3 496.5,536.1 496.0,535.8 495.5,535.6 495.0,535.3 494.5,535.1 494.0,534.8 493.5,534.6 493.0,534.3 492.5,534.1 492.0,533.8 491.5,533.6 491.0,533.3 490.5,533.1 490.0,532.8 489.5,532.6 489.0,532.3 488.5,532.1 488.0,531.8 487.5,531.6 487.0,531.3 486.5,531.1 486.0,530.8 485.5,530.6 485.0,530.3 484.5,530.1 484.0,529.8 483.5,529.6 483.0,529.3 482.5,529.1 482.0,528.2 481.5,527.2 481.0,526.2 480.5,525.2 480.0,524.2 479.5,523.2 479.0,522.2 478.5,521.2 478.0,520.2 477.5,519.8 477.0,520.4 476.5,521.1 476.0,521.8 475.5,522.4 475.0,523.1 474.5,523.8 474.0,524.6 473.5,525.9 473.0,527.2 472.5,528.6 472.0,529.9 471.5,531.2 471.0,532.6 470.5,533.8 470.0,534.3 469.5,534.8 469.0,535.3 468.5,535.8 468.0,536.3 467.5,536.8 467.0,537.3 466.5,537.8 466.0,538.3 465.5,537.9 465.0,536.9 464.5,535.9 464.0,534.9 463.5,533.9 463.0,532.9 462.5,531.9 462.0,530.9 461.5,529.9 461.0,528.9 460.5,527.9 460.0,526.9 459.5,525.9 459.0,524.9 458.5,523.9 458.0,522.9 457.5,521.9 457.0,520.9 456.5,519.9 456.0,520.0 455.5,520.7 455.0,521.3 454.5,522.0 454.0,522.7 453.5,523.3 453.0,524.0 452.5,524.8 452.0,525.8 451.5,526.8 451.0,527.8 450.5,528.8 450.0,529.8 449.5,530.8 449.0,531.5 448.5,531.9 448.0,532.2 447.5,532.5 447.0,532.9 446.5,533.2 446.0,533.5 445.5,533.3 445.0,532.0 444.5,530.7 444.0,529.3 443.5,528.0 443.0,526.7 442.5,525.3 442.0,524.1 441.5,523.5 441.0,522.8 440.5,522.1 440.0,521.5 439.5,520.8 439.0,520.1 438.5,519.6 438.0,520.1 437.5,520.6 437.0,521.1 436.5,521.6 436.0,522.1 435.5,522.6 435.0,523.1 434.5,523.6 434.0,524.1 433.5,525.1 433.0,526.5 432.5,527.8 432.0,529.1 431.5,530.5 431.0,531.8 430.5,533.1 430.0,534.1 429.5,534.8 429.0,535.4 428.5,536.1 428.0,536.8 427.5,536.4 427.0,535.7 426.5,535.1 426.0,534.5 425.5,534.2 425.0,533.9 424.5,533.7 424.0,533.1 423.5,532.1 423.0,531.1 422.5,530.1 422.0,529.1 421.5,528.1 421.0,527.1 420.5,526.1 420.0,525.1 419.5,524.4 419.0,525.1 418.5,525.7 418.0,526.4 417.5,527.1 417.0,527.7 416.5,528.4 416.0,529.1 415.5,530.1 415.0,531.1 414.5,532.1 414.0,533.1 413.5,534.1 413.0,535.1 412.5,536.1 412.0,535.5 411.5,534.8 411.0,534.2 410.5,533.5 410.0,532.8 409.5,532.2 409.0,531.5 408.5,530.5 408.0,529.5 407.5,528.4 407.0,527.3 406.5,526.3 406.0,525.2 405.5,524.2 405.0,523.1 404.5,522.1 404.0,521.9 403.5,521.9" fill="#ebebeb"/>
<polyline points="406.3,472.1 408.5,504.3 410.2,500.3 411.5,501.6 413.2,510.2 415.1,501.0 417.2,517.4 419.4,507.6 421.7,503.0 423.8,481.3 426.0,485.2 428.2,493.8 430.3,485.9 432.6,482.6 434.8,483.6 436.9,497.0 439.1,514.1 441.4,514.8 444.0,517.4 446.1,503.6 448.3,478.6 450.3,482.6 452.3,479.3 454.5,478.6 456.9,476.0 459.2,508.2 461.5,500.3 463.4,505.6 465.4,504.9 468.0,510.2 470.3,519.4 472.6,499.7 475.9,476.0 478.9,464.2 481.2,477.3 483.4,492.4 485.8,506.9 488.1,487.2 490.4,503.6 493.0,510.2 494.6,511.5 496.8,508.2 499.2,509.5 501.6,508.9 503.4,490.5 505.5,482.6 508.1,482.9 510.4,483.6 512.6,498.4 515.0,504.9 516.9,508.2 518.6,509.5 520.5,514.1 522.8,519.4 525.2,507.6 527.4,498.4 529.7,484.6 532.0,485.9 534.0,497.0 536.0,502.3 538.6,487.2 540.6,501.6 542.8,504.9 545.2,519.4 547.5,512.8 549.8,520.7 551.8,514.8 554.1,482.6 556.0,493.8 558.3,481.3 560.7,494.4 562.9,493.1 564.9,493.1 567.3,495.7 569.5,498.4 571.7,516.8 574.1,512.8 576.7,510.8 578.7,508.9 580.4,501.2 582.4,490.3 584.9,467.2 587.2,488.9 589.2,494.4 591.3,490.3 593.3,501.2 595.3,512.0 597.4,513.4 599.0,514.1 600.8,517.4 602.8,510.7 604.8,495.7 606.9,480.1 608.9,486.2 611.2,469.3 613.4,495.7 615.7,487.6 617.7,503.9 619.8,502.5 621.8,509.3 624.5,516.1 626.6,512.0 629.3,505.9 631.3,510.0 633.3,493.0 635.4,487.6 637.4,488.9 639.7,487.6 641.9,498.4 644.2,493.0 646.2,506.6 648.3,502.5 650.3,506.6 652.3,512.0 654.4,516.8 656.0,517.4 658.2,513.4 660.1,499.8 662.3,497.1 664.3,470.6 666.6,482.2 668.2,490.3 670.0,495.7" fill="none" stroke="#0072bd" stroke-width="1.5" stroke-linejoin="round"/>
<line x1="406.7" y1="495.5" x2="669.1" y2="501.6" stroke="#000" stroke-width="1.9"/>
<line x1="406.7" y1="494.8" x2="669.1" y2="500.9" stroke="#f00" stroke-width="1.6" stroke-dasharray="8.1 4.0"/>
<line x1="406.7" y1="496.2" x2="669.1" y2="502.3" stroke="#f00" stroke-width="1.6" stroke-dasharray="8.1 4.0"/>
</g>
<rect x="483.1" y="419.4" width="176.7" height="24.3" fill="#fff" stroke="#262626" stroke-width="1.1"/>
<line x1="487.1" y1="431.1" x2="525.1" y2="431.1" stroke="#000" stroke-width="2"/>
<text transform="translate(528.1,438.2) scale(1,1.04)" font-size="13.8" class="k">Slope: -3.96m·year<tspan dy="-5.7" font-size="10.5">-1</tspan></text>
<text transform="translate(417.6,438.8) scale(1,1.04)" font-size="12.6" class="k">(f)</text>
<path d="M404.5 411.1H669.1V557.7H404.5ZM431.0 557.7v-2.6M431.0 411.1v2.6M483.9 557.7v-2.6M483.9 411.1v2.6M536.8 557.7v-2.6M536.8 411.1v2.6M589.7 557.7v-2.6M589.7 411.1v2.6M642.6 557.7v-2.6M642.6 411.1v2.6M404.5 550.0h2.6M669.1 550.0h-2.6M404.5 519.1h2.6M669.1 519.1h-2.6M404.5 488.3h2.6M669.1 488.3h-2.6M404.5 457.4h2.6M669.1 457.4h-2.6M404.5 426.5h2.6M669.1 426.5h-2.6" stroke="#262626" stroke-width="1.3" fill="none"/>
<text transform="translate(431.0,577.8) scale(1,1.04)" text-anchor="middle">2012</text>
<text transform="translate(483.9,577.8) scale(1,1.04)" text-anchor="middle">2014</text>
<text transform="translate(536.8,577.8) scale(1,1.04)" text-anchor="middle">2016</text>
<text transform="translate(589.7,577.8) scale(1,1.04)" text-anchor="middle">2018</text>
<text transform="translate(642.6,577.8) scale(1,1.04)" text-anchor="middle">2020</text>
<text transform="translate(398.1,555.9) scale(1,1.04)" text-anchor="end">200</text>
<text transform="translate(398.1,525.0) scale(1,1.04)" text-anchor="end">400</text>
<text transform="translate(398.1,494.2) scale(1,1.04)" text-anchor="end">600</text>
<text transform="translate(398.1,463.3) scale(1,1.04)" text-anchor="end">800</text>
<text transform="translate(398.1,432.4) scale(1,1.04)" text-anchor="end">1000</text>
<text transform="translate(356.8,484.4) scale(1,1.04) rotate(-90)" text-anchor="middle" font-size="16.3">PBLH [m]</text>
</svg>
</body></html>
